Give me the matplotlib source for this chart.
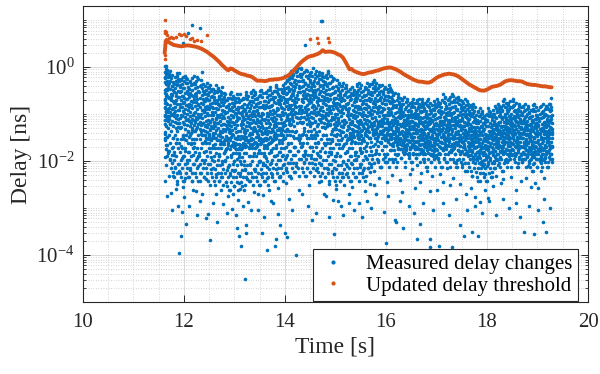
import numpy as np
import matplotlib
matplotlib.use('Agg')
import matplotlib.pyplot as plt
from matplotlib.ticker import LogLocator, FixedLocator, MultipleLocator, NullFormatter, FixedFormatter
from matplotlib.lines import Line2D

# ---------------- data (time in s, delay as log10 of ns) ----------------
meas_t = [
    11.62, 11.64, 11.63, 11.66, 11.62, 11.65, 11.63, 11.67, 11.64, 11.62, 11.68, 11.65,
    11.63, 11.62, 11.65, 11.64, 11.66, 11.63, 11.69, 11.62, 11.67, 11.64, 11.66, 11.68,
    11.74, 11.71, 11.78, 11.73, 11.76, 11.72, 11.79, 11.75, 11.77, 11.70, 11.73, 11.78,
    11.87, 11.83, 11.80, 11.86, 11.89, 11.82, 11.85, 11.88, 11.81, 11.84, 11.87, 11.86,
    11.92, 11.98, 11.95, 11.90, 11.94, 11.99, 11.91, 11.97, 11.93, 11.96, 11.99, 11.94,
    12.09, 12.04, 12.06, 12.01, 12.07, 12.00, 12.03, 12.05, 12.08, 12.02, 12.06, 12.01,
    12.15, 12.11, 12.18, 12.13, 12.10, 12.16, 12.12, 12.19, 12.14, 12.17, 12.11, 12.16,
    12.23, 12.27, 12.20, 12.25, 12.29, 12.22, 12.26, 12.21, 12.28, 12.24, 12.27, 12.22,
    12.36, 12.32, 12.38, 12.30, 12.34, 12.39, 12.31, 12.37, 12.33, 12.35, 12.38, 12.32,
    12.42, 12.47, 12.44, 12.41, 12.49, 12.45, 12.40, 12.48, 12.43, 12.46, 12.41, 12.47,
    12.55, 12.51, 12.58, 12.53, 12.50, 12.57, 12.52, 12.59, 12.54, 12.56, 12.51, 12.58,
    12.63, 12.68, 12.61, 12.66, 12.64, 12.60, 12.69, 12.62, 12.67, 12.65, 12.63, 12.68,
    12.74, 12.71, 12.77, 12.70, 12.79, 12.73, 12.76, 12.72, 12.78, 12.75, 12.70, 12.77,
    12.82, 12.86, 12.80, 12.88, 12.84, 12.81, 12.87, 12.83, 12.89, 12.85, 12.82, 12.87,
    12.95, 12.91, 12.98, 12.93, 12.90, 12.96, 12.92, 12.99, 12.94, 12.97, 12.91, 12.96,
    13.07, 13.02, 13.05, 13.00, 13.08, 13.04, 13.01, 13.09, 13.03, 13.06, 13.02, 13.08,
    13.13, 13.17, 13.10, 13.15, 13.19, 13.12, 13.16, 13.11, 13.18, 13.14, 13.17, 13.12,
    13.24, 13.21, 13.27, 13.20, 13.26, 13.22, 13.29, 13.23, 13.25, 13.28, 13.21, 13.27,
    13.38, 13.33, 13.30, 13.36, 13.31, 13.39, 13.34, 13.37, 13.32, 13.35, 13.30, 13.38,
    13.42, 13.46, 13.40, 13.48, 13.44, 13.41, 13.47, 13.43, 13.49, 13.45, 13.42, 13.47,
    13.55, 13.51, 13.58, 13.53, 13.50, 13.56, 13.52, 13.59, 13.54, 13.57, 13.51, 13.56,
    13.63, 13.68, 13.61, 13.66, 13.64, 13.60, 13.69, 13.62, 13.67, 13.65, 13.61, 13.68,
    13.74, 13.71, 13.77, 13.70, 13.79, 13.73, 13.76, 13.72, 13.78, 13.75, 13.70, 13.77,
    13.82, 13.86, 13.80, 13.88, 13.84, 13.81, 13.87, 13.83, 13.89, 13.85, 13.82, 13.87,
    13.95, 13.91, 13.98, 13.93, 13.90, 13.96, 13.92, 13.99, 13.94, 13.97, 13.91, 13.96,
    14.04, 14.08, 14.01, 14.06, 14.09, 14.02, 14.05, 14.00, 14.07, 14.03, 14.08, 14.02,
    14.13, 14.17, 14.10, 14.15, 14.19, 14.12, 14.16, 14.11, 14.18, 14.14, 14.17, 14.12,
    14.24, 14.21, 14.27, 14.20, 14.26, 14.22, 14.29, 14.23, 14.25, 14.28, 14.21, 14.27,
    14.36, 14.32, 14.38, 14.30, 14.34, 14.39, 14.31, 14.37, 14.33, 14.35, 14.38, 14.32,
    14.42, 14.47, 14.44, 14.41, 14.49, 14.45, 14.40, 14.48, 14.43, 14.46, 14.41, 14.47,
    14.55, 14.51, 14.58, 14.53, 14.50, 14.57, 14.52, 14.59, 14.54, 14.56, 14.51, 14.58,
    14.63, 14.68, 14.61, 14.66, 14.64, 14.60, 14.69, 14.62, 14.67, 14.65, 14.61, 14.68,
    14.74, 14.71, 14.77, 14.70, 14.79, 14.73, 14.76, 14.72, 14.78, 14.75, 14.70, 14.77,
    14.82, 14.86, 14.80, 14.88, 14.84, 14.81, 14.87, 14.83, 14.89, 14.85, 14.82, 14.87,
    14.95, 14.91, 14.98, 14.93, 14.90, 14.96, 14.92, 14.99, 14.94, 14.97, 14.91, 14.96,
    15.04, 15.08, 15.01, 15.06, 15.09, 15.02, 15.05, 15.00, 15.07, 15.03, 15.08, 15.02,
    15.13, 15.17, 15.10, 15.15, 15.19, 15.12, 15.16, 15.11, 15.18, 15.14, 15.17, 15.12,
    15.24, 15.21, 15.27, 15.20, 15.26, 15.22, 15.29, 15.23, 15.25, 15.28, 15.21, 15.27,
    15.36, 15.32, 15.38, 15.30, 15.34, 15.39, 15.31, 15.37, 15.33, 15.35, 15.38, 15.32,
    15.42, 15.47, 15.44, 15.41, 15.49, 15.45, 15.40, 15.48, 15.43, 15.46, 15.41, 15.47,
    15.55, 15.51, 15.58, 15.53, 15.50, 15.57, 15.52, 15.59, 15.54, 15.56, 15.51, 15.58,
    15.63, 15.68, 15.61, 15.66, 15.64, 15.60, 15.69, 15.62, 15.67, 15.65, 15.61, 15.68,
    15.74, 15.71, 15.77, 15.70, 15.79, 15.73, 15.76, 15.72, 15.78, 15.75, 15.70, 15.77,
    15.82, 15.86, 15.80, 15.88, 15.84, 15.81, 15.87, 15.83, 15.89, 15.85, 15.82, 15.87,
    15.95, 15.91, 15.98, 15.93, 15.90, 15.96, 15.92, 15.99, 15.94, 15.97, 15.91, 15.96,
    16.04, 16.08, 16.01, 16.06, 16.09, 16.02, 16.05, 16.00, 16.07, 16.03, 16.08, 16.02,
    16.13, 16.17, 16.10, 16.15, 16.19, 16.12, 16.16, 16.11, 16.18, 16.14, 16.17, 16.12,
    16.24, 16.21, 16.27, 16.20, 16.26, 16.22, 16.29, 16.23, 16.25, 16.28, 16.21, 16.27,
    16.36, 16.32, 16.38, 16.30, 16.34, 16.39, 16.31, 16.37, 16.33, 16.35, 16.38, 16.32,
    16.42, 16.47, 16.44, 16.41, 16.49, 16.45, 16.40, 16.48, 16.43, 16.46, 16.41, 16.47,
    16.55, 16.51, 16.58, 16.53, 16.50, 16.57, 16.52, 16.59, 16.54, 16.56, 16.51, 16.58,
    16.63, 16.68, 16.61, 16.66, 16.64, 16.60, 16.69, 16.62, 16.67, 16.65, 16.61, 16.68,
    16.74, 16.71, 16.77, 16.70, 16.79, 16.73, 16.76, 16.72, 16.78, 16.75, 16.70, 16.77,
    16.82, 16.86, 16.80, 16.88, 16.84, 16.81, 16.87, 16.83, 16.89, 16.85, 16.82, 16.87,
    16.95, 16.91, 16.98, 16.93, 16.90, 16.96, 16.92, 16.99, 16.94, 16.97, 16.91, 16.96,
    17.04, 17.08, 17.01, 17.06, 17.09, 17.02, 17.05, 17.00, 17.07, 17.03, 17.08, 17.02,
    17.13, 17.17, 17.10, 17.15, 17.19, 17.12, 17.16, 17.11, 17.18, 17.14, 17.17, 17.12,
    17.24, 17.21, 17.27, 17.20, 17.26, 17.22, 17.29, 17.23, 17.25, 17.28, 17.21, 17.27,
    17.36, 17.32, 17.38, 17.30, 17.34, 17.39, 17.31, 17.37, 17.33, 17.35, 17.38, 17.32,
    17.42, 17.47, 17.44, 17.41, 17.49, 17.45, 17.40, 17.48, 17.43, 17.46, 17.41, 17.47,
    17.55, 17.51, 17.58, 17.53, 17.50, 17.57, 17.52, 17.59, 17.54, 17.56, 17.51, 17.58,
    17.63, 17.68, 17.61, 17.66, 17.64, 17.60, 17.69, 17.62, 17.67, 17.65, 17.61, 17.68,
    17.74, 17.71, 17.77, 17.70, 17.79, 17.73, 17.76, 17.72, 17.78, 17.75, 17.70, 17.77,
    17.82, 17.86, 17.80, 17.88, 17.84, 17.81, 17.87, 17.83, 17.89, 17.85, 17.82, 17.87,
    17.95, 17.91, 17.98, 17.93, 17.90, 17.96, 17.92, 17.99, 17.94, 17.97, 17.91, 17.96,
    18.04, 18.08, 18.01, 18.06, 18.09, 18.02, 18.05, 18.00, 18.07, 18.03, 18.08, 18.02,
    18.13, 18.17, 18.10, 18.15, 18.19, 18.12, 18.16, 18.11, 18.18, 18.14, 18.17, 18.12,
    18.24, 18.21, 18.27, 18.20, 18.26, 18.22, 18.29, 18.23, 18.25, 18.28, 18.21, 18.27,
    18.36, 18.32, 18.38, 18.30, 18.34, 18.39, 18.31, 18.37, 18.33, 18.35, 18.38, 18.32,
    18.42, 18.47, 18.44, 18.41, 18.49, 18.45, 18.40, 18.48, 18.43, 18.46, 18.41, 18.47,
    18.55, 18.51, 18.58, 18.53, 18.50, 18.57, 18.52, 18.59, 18.54, 18.56, 18.51, 18.58,
    18.63, 18.68, 18.61, 18.66, 18.64, 18.60, 18.69, 18.62, 18.67, 18.65, 18.61, 18.68,
    18.74, 18.71, 18.77, 18.70, 18.79, 18.73, 18.76, 18.72, 18.78, 18.75, 18.70, 18.77,
    18.82, 18.86, 18.80, 18.88, 18.84, 18.81, 18.87, 18.83, 18.89, 18.85, 18.82, 18.87,
    18.95, 18.91, 18.98, 18.93, 18.90, 18.96, 18.92, 18.99, 18.94, 18.97, 18.91, 18.96,
    19.04, 19.08, 19.01, 19.06, 19.09, 19.02, 19.05, 19.00, 19.07, 19.03, 19.08, 19.02,
    19.13, 19.17, 19.10, 19.15, 19.19, 19.12, 19.16, 19.11, 19.18, 19.14, 19.17, 19.12,
    19.24, 19.21, 19.27, 19.20, 19.26, 19.22, 19.28, 19.23, 19.25, 19.28, 19.21, 19.27,
]
meas_log = [
    -0.31, 0.03, -0.87, -0.12, -1.42, -0.58, -0.21, -1.07, -1.66, -0.69, -0.44, -1.25,
    -0.49, -1.13, -0.05, -0.77, -1.90, -1.51, -0.96, -2.42, -0.33, -2.08, -0.62, -1.79,
    -0.63, -0.14, -1.52, -1.98, -0.41, -1.21, -0.88, -2.67, -1.73, -1.04, -0.29, -2.31,
    -1.36, -0.72, -1.88, -0.19, -1.11, -2.13, -0.55, -2.95, -0.97, -1.62, -0.36, -2.48,
    -0.84, -1.47, -0.27, -2.21, -1.69, -0.61, -1.18, -3.09, -0.43, -1.93, -2.55, -3.60,
    -0.92, -1.56, -0.33, -1.21, -2.04, -0.66, -1.79, -0.24, -1.38, -2.36, -0.81, -2.77,
    -1.64, -0.47, -1.02, -2.19, -0.78, -1.33, -0.30, -1.87, -0.59, -2.42, -1.49, -1.12,
    -0.36, -1.28, -1.71, -0.62, -2.11, -0.95, -0.21, -1.53, -0.79, -2.63, -1.94, -1.17,
    -0.11, -1.06, -0.51, -1.82, -1.37, -0.73, -2.26, -1.19, -0.38, -1.61, -0.92, -2.84,
    -1.24, -0.42, -1.78, -0.86, -1.43, -0.58, -2.05, -1.01, -2.38, -0.69, -1.57, -3.12,
    -0.47, -1.32, -0.98, -2.17, -0.71, -1.66, -1.14, -0.56, -1.91, -0.84, -2.52, -1.46,
    -1.09, -0.44, -1.73, -0.89, -2.28, -1.26, -0.63, -1.52, -1.97, -0.76, -2.71, -1.18,
    -0.52, -1.41, -0.94, -1.86, -1.22, -2.33, -0.68, -1.63, -1.04, -2.07, -0.81, -2.91,
    -0.98, -1.55, -0.64, -2.12, -1.31, -1.79, -0.83, -2.44, -1.16, -0.71, -1.98, -2.74,
    -1.43, -0.58, -1.07, -1.88, -1.24, -0.77, -2.29, -1.61, -0.92, -2.06, -1.35, -3.02,
    -0.66, -1.52, -1.13, -2.21, -0.89, -1.74, -1.29, -2.47, -0.99, -1.95, -0.73, -2.83,
    -1.21, -0.68, -1.86, -1.02, -1.47, -2.31, -0.85, -1.66, -1.13, -2.06, -0.94, -2.59,
    -0.59, -1.38, -1.08, -1.83, -0.81, -2.18, -1.55, -0.97, -2.39, -1.26, -1.71, -2.88,
    -1.17, -0.54, -1.64, -0.93, -2.06, -1.31, -0.72, -1.89, -1.42, -2.34, -1.03, -2.65,
    -0.83, -1.49, -0.58, -1.77, -1.12, -2.22, -0.98, -1.36, -2.01, -0.69, -1.61, -3.04,
    -1.26, -0.62, -1.83, -1.05, -0.51, -1.57, -2.27, -0.88, -1.41, -2.05, -1.14, -2.72,
    -0.54, -1.18, -1.69, -0.86, -2.13, -1.37, -0.71, -1.93, -1.05, -2.36, -1.52, -2.61,
    -1.11, -0.49, -1.56, -0.82, -1.28, -2.04, -0.63, -1.76, -0.97, -2.28, -1.39, -2.90,
    -0.42, -1.02, -1.48, -0.74, -1.87, -1.21, -0.57, -2.16, -1.33, -0.91, -1.66, -2.58,
    -1.32, -0.68, -0.44, -1.73, -1.05, -2.09, -0.86, -1.51, -1.19, -0.55, -2.31, -1.88,
    -0.27, -1.14, -0.71, -1.63, -0.48, -1.91, -1.02, -1.36, -0.19, -2.18, -0.87, -2.47,
    -0.62, -0.14, -1.24, -0.91, -1.71, -0.37, -1.47, -2.05, -0.78, -1.08, -0.52, -2.36,
    -0.08, -0.97, -0.45, -1.38, -1.79, -0.66, -1.16, -2.11, -0.29, -1.56, -0.83, -2.62,
    -0.51, -0.05, -1.29, -0.88, -1.67, -0.34, -1.06, -2.02, -0.72, -1.43, -1.89, -0.21,
    -0.93, -0.18, -1.52, -0.59, -1.21, -0.39, -1.84, -0.76, -2.14, -1.09, -0.07, -2.51,
    -0.33, -1.18, -0.64, -1.71, -0.12, -0.97, -1.45, -2.07, -0.48, -0.81, -1.94, -1.31,
    -0.74, -0.26, -1.38, -0.95, -1.83, -0.49, -1.12, -2.18, -0.11, -1.59, -0.63, -2.44,
    -0.19, -0.86, -1.27, -0.54, -1.66, -1.03, -0.38, -2.09, -0.71, -1.44, -1.91, -2.71,
    -0.58, -0.13, -1.06, -0.82, -1.53, -0.36, -1.81, -1.21, -0.69, -2.17, -0.97, -2.49,
    -0.24, -1.13, -0.66, -1.58, -0.91, -0.43, -1.86, -1.27, -2.22, -0.77, -1.42, -2.82,
    -0.88, -0.34, -1.47, -1.12, -0.61, -1.89, -0.49, -1.31, -2.26, -0.79, -1.64, -2.60,
    -0.41, -1.21, -0.83, -1.68, -0.57, -1.38, -2.03, -0.96, -1.12, -2.34, -0.71, -2.95,
    -1.05, -0.44, -1.52, -0.78, -1.29, -2.11, -0.62, -1.78, -0.91, -1.41, -2.28, -2.70,
    -0.49, -1.17, -0.86, -1.61, -1.33, -0.68, -2.04, -1.01, -1.49, -0.57, -1.87, -2.56,
    -0.37, -0.98, -1.41, -0.64, -1.76, -1.16, -0.82, -2.13, -0.52, -1.29, -1.95, -2.90,
    -0.73, -1.36, -0.42, -1.04, -1.82, -0.59, -1.21, -0.88, -2.19, -1.57, -0.99, -2.64,
    -1.13, -0.36, -0.79, -1.52, -0.55, -1.94, -1.02, -1.31, -0.67, -2.15, -1.68, -2.48,
    -0.32, -0.91, -1.24, -0.57, -1.64, -1.08, -0.73, -1.87, -0.46, -1.39, -2.06, -2.50,
    -0.96, -0.38, -1.41, -0.71, -1.17, -1.83, -0.54, -1.29, -0.86, -1.98, -1.57, -2.37,
    -0.58, -1.23, -0.42, -0.94, -1.61, -1.08, -0.76, -1.91, -1.36, -0.67, -2.12, -1.51,
    -1.02, -0.45, -1.44, -0.73, -1.19, -1.86, -0.61, -1.31, -0.89, -2.02, -1.63, -2.44,
    -0.54, -1.09, -1.47, -0.81, -1.28, -0.67, -1.77, -0.96, -1.58, -1.19, -1.96, -2.30,
    -0.63, -1.21, -0.92, -1.52, -0.78, -1.34, -1.06, -1.74, -1.43, -0.84, -1.88, -2.41,
    -1.12, -0.68, -1.39, -0.93, -1.61, -1.24, -0.79, -1.83, -1.04, -1.47, -2.12, -2.66,
    -0.73, -1.31, -1.02, -1.56, -0.86, -1.19, -1.73, -1.42, -0.94, -1.87, -1.11, -2.28,
    -1.26, -0.75, -0.97, -1.48, -1.14, -1.69, -0.82, -1.33, -1.86, -1.05, -2.17, -2.58,
    -0.88, -1.36, -0.71, -1.12, -1.58, -0.99, -1.81, -1.24, -1.45, -0.79, -2.09, -2.44,
    -1.17, -0.74, -1.51, -0.96, -1.29, -1.77, -0.87, -1.41, -1.06, -1.95, -2.26, -1.63,
    -0.72, -1.22, -1.46, -0.91, -1.69, -1.08, -1.34, -0.83, -1.88, -1.57, -2.21, -2.63,
    -1.03, -1.49, -0.78, -1.27, -1.66, -0.92, -1.14, -1.91, -1.38, -0.85, -2.32, -1.74,
    -0.74, -1.18, -1.43, -0.96, -1.72, -1.31, -0.83, -1.56, -1.07, -1.94, -2.28, -2.61,
    -1.21, -0.63, -0.94, -1.47, -1.11, -1.76, -0.77, -1.34, -1.02, -1.93, -1.58, -2.45,
    -0.68, -1.28, -1.03, -1.55, -0.87, -1.19, -1.81, -1.42, -0.96, -1.67, -2.15, -2.52,
    -1.09, -0.62, -1.38, -0.86, -1.61, -1.21, -0.97, -1.86, -1.48, -0.74, -2.04, -2.36,
    -0.69, -1.14, -1.52, -0.92, -1.33, -1.78, -1.06, -0.81, -1.63, -1.24, -1.97, -2.48,
    -1.26, -0.73, -0.99, -1.57, -1.13, -1.84, -0.88, -1.39, -1.71, -1.04, -2.06, -2.70,
    -0.78, -1.32, -1.09, -1.61, -0.93, -1.44, -1.87, -1.18, -1.03, -1.73, -2.22, -2.57,
    -1.14, -0.83, -1.46, -1.27, -1.71, -0.98, -1.58, -2.02, -1.36, -1.07, -2.31, -2.76,
    -0.93, -1.41, -1.17, -1.68, -1.29, -1.92, -1.04, -1.53, -2.14, -1.78, -2.42, -2.88,
    -1.22, -0.97, -1.58, -1.36, -1.83, -1.11, -2.06, -1.47, -1.71, -2.27, -1.28, -2.62,
    -0.94, -1.37, -1.13, -1.62, -1.24, -1.89, -1.48, -2.11, -1.03, -1.74, -2.33, -2.79,
    -1.18, -0.88, -1.43, -1.06, -1.69, -1.31, -1.92, -0.99, -1.55, -2.14, -1.26, -2.53,
    -0.82, -1.24, -1.07, -1.51, -0.96, -1.37, -1.76, -1.16, -1.93, -1.44, -2.08, -2.46,
    -1.04, -0.73, -1.32, -0.91, -1.58, -1.19, -1.82, -0.84, -1.41, -1.97, -1.12, -2.39,
    -0.77, -1.16, -1.38, -0.94, -1.62, -1.07, -1.27, -1.84, -1.49, -0.86, -1.98, -2.33,
    -1.12, -0.72, -0.95, -1.43, -1.26, -1.71, -0.83, -1.54, -1.04, -1.89, -1.35, -2.61,
    -0.83, -1.27, -1.06, -1.48, -0.94, -1.66, -1.18, -1.39, -1.87, -1.01, -2.04, -2.42,
    -1.19, -0.82, -1.44, -0.98, -1.31, -1.62, -1.07, -1.83, -1.53, -0.91, -1.96, -2.36,
    -0.87, -1.33, -1.14, -1.57, -0.98, -1.76, -1.22, -1.45, -1.92, -1.06, -2.11, -2.55,
    -1.24, -0.81, -1.02, -1.49, -1.13, -1.68, -0.93, -1.36, -1.84, -1.11, -2.07, -2.47,
    -0.86, -1.29, -1.08, -1.53, -0.97, -1.41, -1.74, -1.19, -1.92, -1.63, -2.13, -2.58,
    -1.16, -0.82, -1.37, -0.99, -1.58, -1.24, -1.79, -1.07, -1.46, -1.94, -0.88, -2.36,
    -0.79, -1.21, -1.04, -1.47, -0.91, -1.33, -1.68, -1.12, -1.86, -1.39, -2.02, -0.65,
]

# densest part of the measured cloud (upper body of the band), 24 samples per 0.1 s
core_t = [
    11.63, 11.67, 11.62, 11.65, 11.69, 11.62, 11.66, 11.64, 11.68, 11.64, 11.67, 11.63, 11.65, 11.69, 11.63, 11.62, 11.66, 11.62, 11.68, 11.64, 11.63, 11.67, 11.63, 11.69,
    11.73, 11.77, 11.71, 11.75, 11.79, 11.70, 11.76, 11.72, 11.78, 11.74, 11.77, 11.71, 11.75, 11.79, 11.73, 11.70, 11.76, 11.72, 11.78, 11.74, 11.71, 11.77, 11.73, 11.79,
    11.86, 11.82, 11.89, 11.84, 11.80, 11.87, 11.83, 11.88, 11.81, 11.85, 11.89, 11.84, 11.80, 11.86, 11.82, 11.88, 11.83, 11.87, 11.81, 11.85, 11.82, 11.86, 11.89, 11.84,
    11.91, 11.98, 11.94, 11.90, 11.96, 11.93, 11.99, 11.95, 11.92, 11.97, 11.90, 11.95, 11.98, 11.93, 11.96, 11.91, 11.99, 11.94, 11.97, 11.92, 11.98, 11.90, 11.95, 11.93,
    12.03, 12.07, 12.01, 12.05, 12.09, 12.00, 12.06, 12.02, 12.08, 12.04, 12.07, 12.01, 12.05, 12.09, 12.03, 12.00, 12.06, 12.02, 12.08, 12.04, 12.01, 12.07, 12.03, 12.09,
    12.16, 12.12, 12.19, 12.14, 12.10, 12.17, 12.13, 12.18, 12.11, 12.15, 12.19, 12.14, 12.10, 12.16, 12.12, 12.18, 12.13, 12.17, 12.11, 12.15, 12.12, 12.16, 12.19, 12.14,
    12.21, 12.28, 12.24, 12.20, 12.26, 12.23, 12.29, 12.25, 12.22, 12.27, 12.20, 12.25, 12.28, 12.23, 12.26, 12.21, 12.29, 12.24, 12.27, 12.22, 12.28, 12.20, 12.25, 12.23,
    12.33, 12.37, 12.31, 12.35, 12.39, 12.30, 12.36, 12.32, 12.38, 12.34, 12.37, 12.31, 12.35, 12.39, 12.33, 12.30, 12.36, 12.32, 12.38, 12.34, 12.31, 12.37, 12.33, 12.39,
    12.46, 12.42, 12.49, 12.44, 12.40, 12.47, 12.43, 12.48, 12.41, 12.45, 12.49, 12.44, 12.40, 12.46, 12.42, 12.48, 12.43, 12.47, 12.41, 12.45, 12.42, 12.46, 12.49, 12.44,
    12.51, 12.58, 12.54, 12.50, 12.56, 12.53, 12.59, 12.55, 12.52, 12.57, 12.50, 12.55, 12.58, 12.53, 12.56, 12.51, 12.59, 12.54, 12.57, 12.52, 12.58, 12.50, 12.55, 12.53,
    12.63, 12.67, 12.61, 12.65, 12.69, 12.60, 12.66, 12.62, 12.68, 12.64, 12.67, 12.61, 12.65, 12.69, 12.63, 12.60, 12.66, 12.62, 12.68, 12.64, 12.61, 12.67, 12.63, 12.69,
    12.76, 12.72, 12.79, 12.74, 12.70, 12.77, 12.73, 12.78, 12.71, 12.75, 12.79, 12.74, 12.70, 12.76, 12.72, 12.78, 12.73, 12.77, 12.71, 12.75, 12.72, 12.76, 12.79, 12.74,
    12.81, 12.88, 12.84, 12.80, 12.86, 12.83, 12.89, 12.85, 12.82, 12.87, 12.80, 12.85, 12.88, 12.83, 12.86, 12.81, 12.89, 12.84, 12.87, 12.82, 12.88, 12.80, 12.85, 12.83,
    12.93, 12.97, 12.91, 12.95, 12.99, 12.90, 12.96, 12.92, 12.98, 12.94, 12.97, 12.91, 12.95, 12.99, 12.93, 12.90, 12.96, 12.92, 12.98, 12.94, 12.91, 12.97, 12.93, 12.99,
    13.06, 13.02, 13.09, 13.04, 13.00, 13.07, 13.03, 13.08, 13.01, 13.05, 13.09, 13.04, 13.00, 13.06, 13.02, 13.08, 13.03, 13.07, 13.01, 13.05, 13.02, 13.06, 13.09, 13.04,
    13.11, 13.18, 13.14, 13.10, 13.16, 13.13, 13.19, 13.15, 13.12, 13.17, 13.10, 13.15, 13.18, 13.13, 13.16, 13.11, 13.19, 13.14, 13.17, 13.12, 13.18, 13.10, 13.15, 13.13,
    13.23, 13.27, 13.21, 13.25, 13.29, 13.20, 13.26, 13.22, 13.28, 13.24, 13.27, 13.21, 13.25, 13.29, 13.23, 13.20, 13.26, 13.22, 13.28, 13.24, 13.21, 13.27, 13.23, 13.29,
    13.36, 13.32, 13.39, 13.34, 13.30, 13.37, 13.33, 13.38, 13.31, 13.35, 13.39, 13.34, 13.30, 13.36, 13.32, 13.38, 13.33, 13.37, 13.31, 13.35, 13.32, 13.36, 13.39, 13.34,
    13.41, 13.48, 13.44, 13.40, 13.46, 13.43, 13.49, 13.45, 13.42, 13.47, 13.40, 13.45, 13.48, 13.43, 13.46, 13.41, 13.49, 13.44, 13.47, 13.42, 13.48, 13.40, 13.45, 13.43,
    13.53, 13.57, 13.51, 13.55, 13.59, 13.50, 13.56, 13.52, 13.58, 13.54, 13.57, 13.51, 13.55, 13.59, 13.53, 13.50, 13.56, 13.52, 13.58, 13.54, 13.51, 13.57, 13.53, 13.59,
    13.66, 13.62, 13.69, 13.64, 13.60, 13.67, 13.63, 13.68, 13.61, 13.65, 13.69, 13.64, 13.60, 13.66, 13.62, 13.68, 13.63, 13.67, 13.61, 13.65, 13.62, 13.66, 13.69, 13.64,
    13.71, 13.78, 13.74, 13.70, 13.76, 13.73, 13.79, 13.75, 13.72, 13.77, 13.70, 13.75, 13.78, 13.73, 13.76, 13.71, 13.79, 13.74, 13.77, 13.72, 13.78, 13.70, 13.75, 13.73,
    13.83, 13.87, 13.81, 13.85, 13.89, 13.80, 13.86, 13.82, 13.88, 13.84, 13.87, 13.81, 13.85, 13.89, 13.83, 13.80, 13.86, 13.82, 13.88, 13.84, 13.81, 13.87, 13.83, 13.89,
    13.96, 13.92, 13.99, 13.94, 13.90, 13.97, 13.93, 13.98, 13.91, 13.95, 13.99, 13.94, 13.90, 13.96, 13.92, 13.98, 13.93, 13.97, 13.91, 13.95, 13.92, 13.96, 13.99, 13.94,
    14.01, 14.08, 14.04, 14.00, 14.06, 14.03, 14.09, 14.05, 14.02, 14.07, 14.00, 14.05, 14.08, 14.03, 14.06, 14.01, 14.09, 14.04, 14.07, 14.02, 14.08, 14.00, 14.05, 14.03,
    14.13, 14.17, 14.11, 14.15, 14.19, 14.10, 14.16, 14.12, 14.18, 14.14, 14.17, 14.11, 14.15, 14.19, 14.13, 14.10, 14.16, 14.12, 14.18, 14.14, 14.11, 14.17, 14.13, 14.19,
    14.26, 14.22, 14.29, 14.24, 14.20, 14.27, 14.23, 14.28, 14.21, 14.25, 14.29, 14.24, 14.20, 14.26, 14.22, 14.28, 14.23, 14.27, 14.21, 14.25, 14.22, 14.26, 14.29, 14.24,
    14.31, 14.38, 14.34, 14.30, 14.36, 14.33, 14.39, 14.35, 14.32, 14.37, 14.30, 14.35, 14.38, 14.33, 14.36, 14.31, 14.39, 14.34, 14.37, 14.32, 14.38, 14.30, 14.35, 14.33,
    14.43, 14.47, 14.41, 14.45, 14.49, 14.40, 14.46, 14.42, 14.48, 14.44, 14.47, 14.41, 14.45, 14.49, 14.43, 14.40, 14.46, 14.42, 14.48, 14.44, 14.41, 14.47, 14.43, 14.49,
    14.56, 14.52, 14.59, 14.54, 14.50, 14.57, 14.53, 14.58, 14.51, 14.55, 14.59, 14.54, 14.50, 14.56, 14.52, 14.58, 14.53, 14.57, 14.51, 14.55, 14.52, 14.56, 14.59, 14.54,
    14.61, 14.68, 14.64, 14.60, 14.66, 14.63, 14.69, 14.65, 14.62, 14.67, 14.60, 14.65, 14.68, 14.63, 14.66, 14.61, 14.69, 14.64, 14.67, 14.62, 14.68, 14.60, 14.65, 14.63,
    14.73, 14.77, 14.71, 14.75, 14.79, 14.70, 14.76, 14.72, 14.78, 14.74, 14.77, 14.71, 14.75, 14.79, 14.73, 14.70, 14.76, 14.72, 14.78, 14.74, 14.71, 14.77, 14.73, 14.79,
    14.86, 14.82, 14.89, 14.84, 14.80, 14.87, 14.83, 14.88, 14.81, 14.85, 14.89, 14.84, 14.80, 14.86, 14.82, 14.88, 14.83, 14.87, 14.81, 14.85, 14.82, 14.86, 14.89, 14.84,
    14.91, 14.98, 14.94, 14.90, 14.96, 14.93, 14.99, 14.95, 14.92, 14.97, 14.90, 14.95, 14.98, 14.93, 14.96, 14.91, 14.99, 14.94, 14.97, 14.92, 14.98, 14.90, 14.95, 14.93,
    15.03, 15.07, 15.01, 15.05, 15.09, 15.00, 15.06, 15.02, 15.08, 15.04, 15.07, 15.01, 15.05, 15.09, 15.03, 15.00, 15.06, 15.02, 15.08, 15.04, 15.01, 15.07, 15.03, 15.09,
    15.16, 15.12, 15.19, 15.14, 15.10, 15.17, 15.13, 15.18, 15.11, 15.15, 15.19, 15.14, 15.10, 15.16, 15.12, 15.18, 15.13, 15.17, 15.11, 15.15, 15.12, 15.16, 15.19, 15.14,
    15.21, 15.28, 15.24, 15.20, 15.26, 15.23, 15.29, 15.25, 15.22, 15.27, 15.20, 15.25, 15.28, 15.23, 15.26, 15.21, 15.29, 15.24, 15.27, 15.22, 15.28, 15.20, 15.25, 15.23,
    15.33, 15.37, 15.31, 15.35, 15.39, 15.30, 15.36, 15.32, 15.38, 15.34, 15.37, 15.31, 15.35, 15.39, 15.33, 15.30, 15.36, 15.32, 15.38, 15.34, 15.31, 15.37, 15.33, 15.39,
    15.46, 15.42, 15.49, 15.44, 15.40, 15.47, 15.43, 15.48, 15.41, 15.45, 15.49, 15.44, 15.40, 15.46, 15.42, 15.48, 15.43, 15.47, 15.41, 15.45, 15.42, 15.46, 15.49, 15.44,
    15.51, 15.58, 15.54, 15.50, 15.56, 15.53, 15.59, 15.55, 15.52, 15.57, 15.50, 15.55, 15.58, 15.53, 15.56, 15.51, 15.59, 15.54, 15.57, 15.52, 15.58, 15.50, 15.55, 15.53,
    15.63, 15.67, 15.61, 15.65, 15.69, 15.60, 15.66, 15.62, 15.68, 15.64, 15.67, 15.61, 15.65, 15.69, 15.63, 15.60, 15.66, 15.62, 15.68, 15.64, 15.61, 15.67, 15.63, 15.69,
    15.76, 15.72, 15.79, 15.74, 15.70, 15.77, 15.73, 15.78, 15.71, 15.75, 15.79, 15.74, 15.70, 15.76, 15.72, 15.78, 15.73, 15.77, 15.71, 15.75, 15.72, 15.76, 15.79, 15.74,
    15.81, 15.88, 15.84, 15.80, 15.86, 15.83, 15.89, 15.85, 15.82, 15.87, 15.80, 15.85, 15.88, 15.83, 15.86, 15.81, 15.89, 15.84, 15.87, 15.82, 15.88, 15.80, 15.85, 15.83,
    15.93, 15.97, 15.91, 15.95, 15.99, 15.90, 15.96, 15.92, 15.98, 15.94, 15.97, 15.91, 15.95, 15.99, 15.93, 15.90, 15.96, 15.92, 15.98, 15.94, 15.91, 15.97, 15.93, 15.99,
    16.06, 16.02, 16.09, 16.04, 16.00, 16.07, 16.03, 16.08, 16.01, 16.05, 16.09, 16.04, 16.00, 16.06, 16.02, 16.08, 16.03, 16.07, 16.01, 16.05, 16.02, 16.06, 16.09, 16.04,
    16.11, 16.18, 16.14, 16.10, 16.16, 16.13, 16.19, 16.15, 16.12, 16.17, 16.10, 16.15, 16.18, 16.13, 16.16, 16.11, 16.19, 16.14, 16.17, 16.12, 16.18, 16.10, 16.15, 16.13,
    16.23, 16.27, 16.21, 16.25, 16.29, 16.20, 16.26, 16.22, 16.28, 16.24, 16.27, 16.21, 16.25, 16.29, 16.23, 16.20, 16.26, 16.22, 16.28, 16.24, 16.21, 16.27, 16.23, 16.29,
    16.36, 16.32, 16.39, 16.34, 16.30, 16.37, 16.33, 16.38, 16.31, 16.35, 16.39, 16.34, 16.30, 16.36, 16.32, 16.38, 16.33, 16.37, 16.31, 16.35, 16.32, 16.36, 16.39, 16.34,
    16.41, 16.48, 16.44, 16.40, 16.46, 16.43, 16.49, 16.45, 16.42, 16.47, 16.40, 16.45, 16.48, 16.43, 16.46, 16.41, 16.49, 16.44, 16.47, 16.42, 16.48, 16.40, 16.45, 16.43,
    16.53, 16.57, 16.51, 16.55, 16.59, 16.50, 16.56, 16.52, 16.58, 16.54, 16.57, 16.51, 16.55, 16.59, 16.53, 16.50, 16.56, 16.52, 16.58, 16.54, 16.51, 16.57, 16.53, 16.59,
    16.66, 16.62, 16.69, 16.64, 16.60, 16.67, 16.63, 16.68, 16.61, 16.65, 16.69, 16.64, 16.60, 16.66, 16.62, 16.68, 16.63, 16.67, 16.61, 16.65, 16.62, 16.66, 16.69, 16.64,
    16.71, 16.78, 16.74, 16.70, 16.76, 16.73, 16.79, 16.75, 16.72, 16.77, 16.70, 16.75, 16.78, 16.73, 16.76, 16.71, 16.79, 16.74, 16.77, 16.72, 16.78, 16.70, 16.75, 16.73,
    16.83, 16.87, 16.81, 16.85, 16.89, 16.80, 16.86, 16.82, 16.88, 16.84, 16.87, 16.81, 16.85, 16.89, 16.83, 16.80, 16.86, 16.82, 16.88, 16.84, 16.81, 16.87, 16.83, 16.89,
    16.96, 16.92, 16.99, 16.94, 16.90, 16.97, 16.93, 16.98, 16.91, 16.95, 16.99, 16.94, 16.90, 16.96, 16.92, 16.98, 16.93, 16.97, 16.91, 16.95, 16.92, 16.96, 16.99, 16.94,
    17.01, 17.08, 17.04, 17.00, 17.06, 17.03, 17.09, 17.05, 17.02, 17.07, 17.00, 17.05, 17.08, 17.03, 17.06, 17.01, 17.09, 17.04, 17.07, 17.02, 17.08, 17.00, 17.05, 17.03,
    17.13, 17.17, 17.11, 17.15, 17.19, 17.10, 17.16, 17.12, 17.18, 17.14, 17.17, 17.11, 17.15, 17.19, 17.13, 17.10, 17.16, 17.12, 17.18, 17.14, 17.11, 17.17, 17.13, 17.19,
    17.26, 17.22, 17.29, 17.24, 17.20, 17.27, 17.23, 17.28, 17.21, 17.25, 17.29, 17.24, 17.20, 17.26, 17.22, 17.28, 17.23, 17.27, 17.21, 17.25, 17.22, 17.26, 17.29, 17.24,
    17.31, 17.38, 17.34, 17.30, 17.36, 17.33, 17.39, 17.35, 17.32, 17.37, 17.30, 17.35, 17.38, 17.33, 17.36, 17.31, 17.39, 17.34, 17.37, 17.32, 17.38, 17.30, 17.35, 17.33,
    17.43, 17.47, 17.41, 17.45, 17.49, 17.40, 17.46, 17.42, 17.48, 17.44, 17.47, 17.41, 17.45, 17.49, 17.43, 17.40, 17.46, 17.42, 17.48, 17.44, 17.41, 17.47, 17.43, 17.49,
    17.56, 17.52, 17.59, 17.54, 17.50, 17.57, 17.53, 17.58, 17.51, 17.55, 17.59, 17.54, 17.50, 17.56, 17.52, 17.58, 17.53, 17.57, 17.51, 17.55, 17.52, 17.56, 17.59, 17.54,
    17.61, 17.68, 17.64, 17.60, 17.66, 17.63, 17.69, 17.65, 17.62, 17.67, 17.60, 17.65, 17.68, 17.63, 17.66, 17.61, 17.69, 17.64, 17.67, 17.62, 17.68, 17.60, 17.65, 17.63,
    17.73, 17.77, 17.71, 17.75, 17.79, 17.70, 17.76, 17.72, 17.78, 17.74, 17.77, 17.71, 17.75, 17.79, 17.73, 17.70, 17.76, 17.72, 17.78, 17.74, 17.71, 17.77, 17.73, 17.79,
    17.86, 17.82, 17.89, 17.84, 17.80, 17.87, 17.83, 17.88, 17.81, 17.85, 17.89, 17.84, 17.80, 17.86, 17.82, 17.88, 17.83, 17.87, 17.81, 17.85, 17.82, 17.86, 17.89, 17.84,
    17.91, 17.98, 17.94, 17.90, 17.96, 17.93, 17.99, 17.95, 17.92, 17.97, 17.90, 17.95, 17.98, 17.93, 17.96, 17.91, 17.99, 17.94, 17.97, 17.92, 17.98, 17.90, 17.95, 17.93,
    18.03, 18.07, 18.01, 18.05, 18.09, 18.00, 18.06, 18.02, 18.08, 18.04, 18.07, 18.01, 18.05, 18.09, 18.03, 18.00, 18.06, 18.02, 18.08, 18.04, 18.01, 18.07, 18.03, 18.09,
    18.16, 18.12, 18.19, 18.14, 18.10, 18.17, 18.13, 18.18, 18.11, 18.15, 18.19, 18.14, 18.10, 18.16, 18.12, 18.18, 18.13, 18.17, 18.11, 18.15, 18.12, 18.16, 18.19, 18.14,
    18.21, 18.28, 18.24, 18.20, 18.26, 18.23, 18.29, 18.25, 18.22, 18.27, 18.20, 18.25, 18.28, 18.23, 18.26, 18.21, 18.29, 18.24, 18.27, 18.22, 18.28, 18.20, 18.25, 18.23,
    18.33, 18.37, 18.31, 18.35, 18.39, 18.30, 18.36, 18.32, 18.38, 18.34, 18.37, 18.31, 18.35, 18.39, 18.33, 18.30, 18.36, 18.32, 18.38, 18.34, 18.31, 18.37, 18.33, 18.39,
    18.46, 18.42, 18.49, 18.44, 18.40, 18.47, 18.43, 18.48, 18.41, 18.45, 18.49, 18.44, 18.40, 18.46, 18.42, 18.48, 18.43, 18.47, 18.41, 18.45, 18.42, 18.46, 18.49, 18.44,
    18.51, 18.58, 18.54, 18.50, 18.56, 18.53, 18.59, 18.55, 18.52, 18.57, 18.50, 18.55, 18.58, 18.53, 18.56, 18.51, 18.59, 18.54, 18.57, 18.52, 18.58, 18.50, 18.55, 18.53,
    18.63, 18.67, 18.61, 18.65, 18.69, 18.60, 18.66, 18.62, 18.68, 18.64, 18.67, 18.61, 18.65, 18.69, 18.63, 18.60, 18.66, 18.62, 18.68, 18.64, 18.61, 18.67, 18.63, 18.69,
    18.76, 18.72, 18.79, 18.74, 18.70, 18.77, 18.73, 18.78, 18.71, 18.75, 18.79, 18.74, 18.70, 18.76, 18.72, 18.78, 18.73, 18.77, 18.71, 18.75, 18.72, 18.76, 18.79, 18.74,
    18.81, 18.88, 18.84, 18.80, 18.86, 18.83, 18.89, 18.85, 18.82, 18.87, 18.80, 18.85, 18.88, 18.83, 18.86, 18.81, 18.89, 18.84, 18.87, 18.82, 18.88, 18.80, 18.85, 18.83,
    18.93, 18.97, 18.91, 18.95, 18.99, 18.90, 18.96, 18.92, 18.98, 18.94, 18.97, 18.91, 18.95, 18.99, 18.93, 18.90, 18.96, 18.92, 18.98, 18.94, 18.91, 18.97, 18.93, 18.99,
    19.06, 19.02, 19.09, 19.04, 19.00, 19.07, 19.03, 19.08, 19.01, 19.05, 19.09, 19.04, 19.00, 19.06, 19.02, 19.08, 19.03, 19.07, 19.01, 19.05, 19.02, 19.06, 19.09, 19.04,
    19.11, 19.18, 19.14, 19.10, 19.16, 19.13, 19.19, 19.15, 19.12, 19.17, 19.10, 19.15, 19.18, 19.13, 19.16, 19.11, 19.19, 19.14, 19.17, 19.12, 19.18, 19.10, 19.15, 19.13,
    19.23, 19.27, 19.21, 19.25, 19.28, 19.20, 19.26, 19.22, 19.28, 19.24, 19.27, 19.21, 19.25, 19.28, 19.23, 19.20, 19.26, 19.22, 19.28, 19.24, 19.21, 19.27, 19.23, 19.28,
]
core_log = [
    0.02, -0.06, -0.10, -0.14, -0.22, -0.24, -0.30, -0.36, -0.38, -0.47, -0.49, -0.55, -0.61, -0.63, -0.70, -0.77, -0.79, -0.86, -0.90, -0.93, -1.01, -1.04, -1.12, -1.15,
    -0.08, -0.16, -0.20, -0.24, -0.32, -0.34, -0.40, -0.46, -0.48, -0.57, -0.59, -0.65, -0.71, -0.73, -0.80, -0.87, -0.89, -0.96, -1.00, -1.03, -1.11, -1.14, -1.22, -1.25,
    -0.13, -0.21, -0.25, -0.29, -0.37, -0.39, -0.45, -0.51, -0.53, -0.62, -0.64, -0.70, -0.76, -0.78, -0.85, -0.92, -0.94, -1.01, -1.05, -1.08, -1.16, -1.19, -1.27, -1.30,
    -0.13, -0.21, -0.25, -0.29, -0.37, -0.39, -0.45, -0.51, -0.53, -0.62, -0.64, -0.70, -0.76, -0.78, -0.85, -0.92, -0.94, -1.01, -1.05, -1.08, -1.16, -1.19, -1.27, -1.30,
    -0.18, -0.26, -0.30, -0.34, -0.42, -0.44, -0.50, -0.56, -0.58, -0.67, -0.69, -0.75, -0.81, -0.83, -0.90, -0.97, -0.99, -1.06, -1.10, -1.13, -1.21, -1.24, -1.32, -1.35,
    -0.23, -0.31, -0.35, -0.39, -0.47, -0.49, -0.55, -0.61, -0.63, -0.72, -0.74, -0.80, -0.86, -0.88, -0.95, -1.02, -1.04, -1.11, -1.15, -1.18, -1.26, -1.29, -1.37, -1.40,
    -0.18, -0.26, -0.30, -0.34, -0.42, -0.44, -0.50, -0.56, -0.58, -0.67, -0.69, -0.75, -0.81, -0.83, -0.90, -0.97, -0.99, -1.06, -1.10, -1.13, -1.21, -1.24, -1.32, -1.35,
    -0.28, -0.36, -0.40, -0.44, -0.52, -0.54, -0.60, -0.66, -0.68, -0.77, -0.79, -0.85, -0.91, -0.93, -1.00, -1.07, -1.09, -1.16, -1.20, -1.23, -1.31, -1.34, -1.42, -1.45,
    -0.33, -0.41, -0.45, -0.49, -0.57, -0.59, -0.65, -0.71, -0.73, -0.82, -0.84, -0.90, -0.96, -0.98, -1.05, -1.12, -1.14, -1.21, -1.25, -1.28, -1.36, -1.39, -1.47, -1.50,
    -0.38, -0.46, -0.50, -0.54, -0.62, -0.64, -0.70, -0.76, -0.78, -0.87, -0.89, -0.95, -1.01, -1.03, -1.10, -1.17, -1.19, -1.26, -1.30, -1.33, -1.41, -1.44, -1.52, -1.55,
    -0.38, -0.46, -0.50, -0.54, -0.62, -0.64, -0.70, -0.76, -0.78, -0.87, -0.89, -0.95, -1.01, -1.03, -1.10, -1.17, -1.19, -1.26, -1.30, -1.33, -1.41, -1.44, -1.52, -1.55,
    -0.43, -0.51, -0.55, -0.59, -0.67, -0.69, -0.75, -0.81, -0.83, -0.92, -0.94, -1.00, -1.06, -1.08, -1.15, -1.22, -1.24, -1.31, -1.35, -1.38, -1.46, -1.49, -1.57, -1.60,
    -0.58, -0.66, -0.70, -0.74, -0.82, -0.84, -0.90, -0.96, -0.98, -1.07, -1.09, -1.15, -1.21, -1.23, -1.30, -1.37, -1.39, -1.46, -1.50, -1.53, -1.61, -1.64, -1.72, -1.75,
    -0.53, -0.61, -0.65, -0.69, -0.77, -0.79, -0.85, -0.91, -0.93, -1.02, -1.04, -1.10, -1.16, -1.18, -1.25, -1.32, -1.34, -1.41, -1.45, -1.48, -1.56, -1.59, -1.67, -1.70,
    -0.58, -0.66, -0.70, -0.74, -0.82, -0.84, -0.90, -0.96, -0.98, -1.07, -1.09, -1.15, -1.21, -1.23, -1.30, -1.37, -1.39, -1.46, -1.50, -1.53, -1.61, -1.64, -1.72, -1.75,
    -0.58, -0.66, -0.70, -0.74, -0.82, -0.84, -0.90, -0.96, -0.98, -1.07, -1.09, -1.15, -1.21, -1.23, -1.30, -1.37, -1.39, -1.46, -1.50, -1.53, -1.61, -1.64, -1.72, -1.75,
    -0.53, -0.61, -0.65, -0.69, -0.77, -0.79, -0.85, -0.91, -0.93, -1.02, -1.04, -1.10, -1.16, -1.18, -1.25, -1.32, -1.34, -1.41, -1.45, -1.48, -1.56, -1.59, -1.67, -1.70,
    -0.48, -0.56, -0.60, -0.64, -0.72, -0.74, -0.80, -0.86, -0.88, -0.97, -0.99, -1.05, -1.11, -1.13, -1.20, -1.27, -1.29, -1.36, -1.40, -1.43, -1.51, -1.54, -1.62, -1.65,
    -0.53, -0.61, -0.65, -0.69, -0.77, -0.79, -0.85, -0.91, -0.93, -1.02, -1.04, -1.10, -1.16, -1.18, -1.25, -1.32, -1.34, -1.41, -1.45, -1.48, -1.56, -1.59, -1.67, -1.70,
    -0.48, -0.56, -0.60, -0.64, -0.72, -0.74, -0.80, -0.86, -0.88, -0.97, -0.99, -1.05, -1.11, -1.13, -1.20, -1.27, -1.29, -1.36, -1.40, -1.43, -1.51, -1.54, -1.62, -1.65,
    -0.48, -0.56, -0.60, -0.64, -0.72, -0.74, -0.80, -0.86, -0.88, -0.97, -0.99, -1.05, -1.11, -1.13, -1.20, -1.27, -1.29, -1.36, -1.40, -1.43, -1.51, -1.54, -1.62, -1.65,
    -0.43, -0.51, -0.55, -0.59, -0.67, -0.69, -0.75, -0.81, -0.83, -0.92, -0.94, -1.00, -1.06, -1.08, -1.15, -1.22, -1.24, -1.31, -1.35, -1.38, -1.46, -1.49, -1.57, -1.60,
    -0.38, -0.46, -0.50, -0.54, -0.62, -0.64, -0.70, -0.76, -0.78, -0.87, -0.89, -0.95, -1.01, -1.03, -1.10, -1.17, -1.19, -1.26, -1.30, -1.33, -1.41, -1.44, -1.52, -1.55,
    -0.38, -0.46, -0.50, -0.54, -0.62, -0.64, -0.70, -0.76, -0.78, -0.87, -0.89, -0.95, -1.01, -1.03, -1.10, -1.17, -1.19, -1.26, -1.30, -1.33, -1.41, -1.44, -1.52, -1.55,
    -0.18, -0.26, -0.30, -0.34, -0.42, -0.44, -0.50, -0.56, -0.58, -0.67, -0.69, -0.75, -0.81, -0.83, -0.90, -0.97, -0.99, -1.06, -1.10, -1.13, -1.21, -1.24, -1.32, -1.35,
    -0.08, -0.16, -0.20, -0.24, -0.32, -0.34, -0.40, -0.46, -0.48, -0.57, -0.59, -0.65, -0.71, -0.73, -0.80, -0.87, -0.89, -0.96, -1.00, -1.03, -1.11, -1.14, -1.22, -1.25,
    -0.03, -0.11, -0.15, -0.19, -0.27, -0.29, -0.35, -0.41, -0.43, -0.52, -0.54, -0.60, -0.66, -0.68, -0.75, -0.82, -0.84, -0.91, -0.95, -0.98, -1.06, -1.09, -1.17, -1.20,
    -0.03, -0.11, -0.15, -0.19, -0.27, -0.29, -0.35, -0.41, -0.43, -0.52, -0.54, -0.60, -0.66, -0.68, -0.75, -0.82, -0.84, -0.91, -0.95, -0.98, -1.06, -1.09, -1.17, -1.20,
    -0.08, -0.16, -0.20, -0.24, -0.32, -0.34, -0.40, -0.46, -0.48, -0.57, -0.59, -0.65, -0.71, -0.73, -0.80, -0.87, -0.89, -0.96, -1.00, -1.03, -1.11, -1.14, -1.22, -1.25,
    -0.03, -0.11, -0.15, -0.19, -0.27, -0.29, -0.35, -0.41, -0.43, -0.52, -0.54, -0.60, -0.66, -0.68, -0.75, -0.82, -0.84, -0.91, -0.95, -0.98, -1.06, -1.09, -1.17, -1.20,
    -0.08, -0.16, -0.20, -0.24, -0.32, -0.34, -0.40, -0.46, -0.48, -0.57, -0.59, -0.65, -0.71, -0.73, -0.80, -0.87, -0.89, -0.96, -1.00, -1.03, -1.11, -1.14, -1.22, -1.25,
    -0.13, -0.21, -0.25, -0.29, -0.37, -0.39, -0.45, -0.51, -0.53, -0.62, -0.64, -0.70, -0.76, -0.78, -0.85, -0.92, -0.94, -1.01, -1.05, -1.08, -1.16, -1.19, -1.27, -1.30,
    -0.08, -0.16, -0.20, -0.24, -0.32, -0.34, -0.40, -0.46, -0.48, -0.57, -0.59, -0.65, -0.71, -0.73, -0.80, -0.87, -0.89, -0.96, -1.00, -1.03, -1.11, -1.14, -1.22, -1.25,
    -0.18, -0.26, -0.30, -0.34, -0.42, -0.44, -0.50, -0.56, -0.58, -0.67, -0.69, -0.75, -0.81, -0.83, -0.90, -0.97, -0.99, -1.06, -1.10, -1.13, -1.21, -1.24, -1.32, -1.35,
    -0.28, -0.36, -0.40, -0.44, -0.52, -0.54, -0.60, -0.66, -0.68, -0.77, -0.79, -0.85, -0.91, -0.93, -1.00, -1.07, -1.09, -1.16, -1.20, -1.23, -1.31, -1.34, -1.42, -1.45,
    -0.33, -0.41, -0.45, -0.49, -0.57, -0.59, -0.65, -0.71, -0.73, -0.82, -0.84, -0.90, -0.96, -0.98, -1.05, -1.12, -1.14, -1.21, -1.25, -1.28, -1.36, -1.39, -1.47, -1.50,
    -0.38, -0.46, -0.50, -0.54, -0.62, -0.64, -0.70, -0.76, -0.78, -0.87, -0.89, -0.95, -1.01, -1.03, -1.10, -1.17, -1.19, -1.26, -1.30, -1.33, -1.41, -1.44, -1.52, -1.55,
    -0.43, -0.51, -0.55, -0.59, -0.67, -0.69, -0.75, -0.81, -0.83, -0.92, -0.94, -1.00, -1.06, -1.08, -1.15, -1.22, -1.24, -1.31, -1.35, -1.38, -1.46, -1.49, -1.57, -1.60,
    -0.33, -0.41, -0.45, -0.49, -0.57, -0.59, -0.65, -0.71, -0.73, -0.82, -0.84, -0.90, -0.96, -0.98, -1.05, -1.12, -1.14, -1.21, -1.25, -1.28, -1.36, -1.39, -1.47, -1.50,
    -0.38, -0.46, -0.50, -0.54, -0.62, -0.64, -0.70, -0.76, -0.78, -0.87, -0.89, -0.95, -1.01, -1.03, -1.10, -1.17, -1.19, -1.26, -1.30, -1.33, -1.41, -1.44, -1.52, -1.55,
    -0.33, -0.41, -0.45, -0.49, -0.57, -0.59, -0.65, -0.71, -0.73, -0.82, -0.84, -0.90, -0.96, -0.98, -1.05, -1.12, -1.14, -1.21, -1.25, -1.28, -1.36, -1.39, -1.47, -1.50,
    -0.28, -0.36, -0.40, -0.44, -0.52, -0.54, -0.60, -0.66, -0.68, -0.77, -0.79, -0.85, -0.91, -0.93, -1.00, -1.07, -1.09, -1.16, -1.20, -1.23, -1.31, -1.34, -1.42, -1.45,
    -0.33, -0.41, -0.45, -0.49, -0.57, -0.59, -0.65, -0.71, -0.73, -0.82, -0.84, -0.90, -0.96, -0.98, -1.05, -1.12, -1.14, -1.21, -1.25, -1.28, -1.36, -1.39, -1.47, -1.50,
    -0.38, -0.46, -0.50, -0.54, -0.62, -0.64, -0.70, -0.76, -0.78, -0.87, -0.89, -0.95, -1.01, -1.03, -1.10, -1.17, -1.19, -1.26, -1.30, -1.33, -1.41, -1.44, -1.52, -1.55,
    -0.38, -0.46, -0.50, -0.54, -0.62, -0.64, -0.70, -0.76, -0.78, -0.87, -0.89, -0.95, -1.01, -1.03, -1.10, -1.17, -1.19, -1.26, -1.30, -1.33, -1.41, -1.44, -1.52, -1.55,
    -0.48, -0.56, -0.60, -0.64, -0.72, -0.74, -0.80, -0.86, -0.88, -0.97, -0.99, -1.05, -1.11, -1.13, -1.20, -1.27, -1.29, -1.36, -1.40, -1.43, -1.51, -1.54, -1.62, -1.65,
    -0.58, -0.66, -0.70, -0.74, -0.82, -0.84, -0.90, -0.96, -0.98, -1.07, -1.09, -1.15, -1.21, -1.23, -1.30, -1.37, -1.39, -1.46, -1.50, -1.53, -1.61, -1.64, -1.72, -1.75,
    -0.63, -0.71, -0.75, -0.79, -0.87, -0.89, -0.95, -1.01, -1.03, -1.12, -1.14, -1.20, -1.26, -1.28, -1.35, -1.42, -1.44, -1.51, -1.55, -1.58, -1.66, -1.69, -1.77, -1.80,
    -0.68, -0.76, -0.80, -0.84, -0.92, -0.94, -1.00, -1.06, -1.08, -1.17, -1.19, -1.25, -1.31, -1.33, -1.40, -1.47, -1.49, -1.56, -1.60, -1.63, -1.71, -1.74, -1.82, -1.85,
    -0.68, -0.76, -0.80, -0.84, -0.92, -0.94, -1.00, -1.06, -1.08, -1.17, -1.19, -1.25, -1.31, -1.33, -1.40, -1.47, -1.49, -1.56, -1.60, -1.63, -1.71, -1.74, -1.82, -1.85,
    -0.68, -0.76, -0.80, -0.84, -0.92, -0.94, -1.00, -1.06, -1.08, -1.17, -1.19, -1.25, -1.31, -1.33, -1.40, -1.47, -1.49, -1.56, -1.60, -1.63, -1.71, -1.74, -1.82, -1.85,
    -0.68, -0.76, -0.80, -0.84, -0.92, -0.94, -1.00, -1.06, -1.08, -1.17, -1.19, -1.25, -1.31, -1.33, -1.40, -1.47, -1.49, -1.56, -1.60, -1.63, -1.71, -1.74, -1.82, -1.85,
    -0.68, -0.76, -0.80, -0.84, -0.92, -0.94, -1.00, -1.06, -1.08, -1.17, -1.19, -1.25, -1.31, -1.33, -1.40, -1.47, -1.49, -1.56, -1.60, -1.63, -1.71, -1.74, -1.82, -1.85,
    -0.73, -0.81, -0.85, -0.89, -0.97, -0.99, -1.05, -1.11, -1.13, -1.22, -1.24, -1.30, -1.36, -1.38, -1.45, -1.52, -1.54, -1.61, -1.65, -1.68, -1.76, -1.79, -1.87, -1.90,
    -0.68, -0.76, -0.80, -0.84, -0.92, -0.94, -1.00, -1.06, -1.08, -1.17, -1.19, -1.25, -1.31, -1.33, -1.40, -1.47, -1.49, -1.56, -1.60, -1.63, -1.71, -1.74, -1.82, -1.85,
    -0.58, -0.66, -0.70, -0.74, -0.82, -0.84, -0.90, -0.96, -0.98, -1.07, -1.09, -1.15, -1.21, -1.23, -1.30, -1.37, -1.39, -1.46, -1.50, -1.53, -1.61, -1.64, -1.72, -1.75,
    -0.63, -0.71, -0.75, -0.79, -0.87, -0.89, -0.95, -1.01, -1.03, -1.12, -1.14, -1.20, -1.26, -1.28, -1.35, -1.42, -1.44, -1.51, -1.55, -1.58, -1.66, -1.69, -1.77, -1.80,
    -0.58, -0.66, -0.70, -0.74, -0.82, -0.84, -0.90, -0.96, -0.98, -1.07, -1.09, -1.15, -1.21, -1.23, -1.30, -1.37, -1.39, -1.46, -1.50, -1.53, -1.61, -1.64, -1.72, -1.75,
    -0.63, -0.71, -0.75, -0.79, -0.87, -0.89, -0.95, -1.01, -1.03, -1.12, -1.14, -1.20, -1.26, -1.28, -1.35, -1.42, -1.44, -1.51, -1.55, -1.58, -1.66, -1.69, -1.77, -1.80,
    -0.68, -0.76, -0.80, -0.84, -0.92, -0.94, -1.00, -1.06, -1.08, -1.17, -1.19, -1.25, -1.31, -1.33, -1.40, -1.47, -1.49, -1.56, -1.60, -1.63, -1.71, -1.74, -1.82, -1.85,
    -0.73, -0.81, -0.85, -0.89, -0.97, -0.99, -1.05, -1.11, -1.13, -1.22, -1.24, -1.30, -1.36, -1.38, -1.45, -1.52, -1.54, -1.61, -1.65, -1.68, -1.76, -1.79, -1.87, -1.90,
    -0.78, -0.86, -0.90, -0.94, -1.02, -1.04, -1.10, -1.16, -1.18, -1.27, -1.29, -1.35, -1.41, -1.43, -1.50, -1.57, -1.59, -1.66, -1.70, -1.73, -1.81, -1.84, -1.92, -1.95,
    -0.88, -0.96, -1.00, -1.04, -1.12, -1.14, -1.20, -1.26, -1.28, -1.37, -1.39, -1.45, -1.51, -1.53, -1.60, -1.67, -1.69, -1.76, -1.80, -1.83, -1.91, -1.94, -2.02, -2.05,
    -0.93, -1.01, -1.05, -1.09, -1.17, -1.19, -1.25, -1.31, -1.33, -1.42, -1.44, -1.50, -1.56, -1.58, -1.65, -1.72, -1.74, -1.81, -1.85, -1.88, -1.96, -1.99, -2.07, -2.10,
    -0.88, -0.96, -1.00, -1.04, -1.12, -1.14, -1.20, -1.26, -1.28, -1.37, -1.39, -1.45, -1.51, -1.53, -1.60, -1.67, -1.69, -1.76, -1.80, -1.83, -1.91, -1.94, -2.02, -2.05,
    -0.83, -0.91, -0.95, -0.99, -1.07, -1.09, -1.15, -1.21, -1.23, -1.32, -1.34, -1.40, -1.46, -1.48, -1.55, -1.62, -1.64, -1.71, -1.75, -1.78, -1.86, -1.89, -1.97, -2.00,
    -0.78, -0.86, -0.90, -0.94, -1.02, -1.04, -1.10, -1.16, -1.18, -1.27, -1.29, -1.35, -1.41, -1.43, -1.50, -1.57, -1.59, -1.66, -1.70, -1.73, -1.81, -1.84, -1.92, -1.95,
    -0.68, -0.76, -0.80, -0.84, -0.92, -0.94, -1.00, -1.06, -1.08, -1.17, -1.19, -1.25, -1.31, -1.33, -1.40, -1.47, -1.49, -1.56, -1.60, -1.63, -1.71, -1.74, -1.82, -1.85,
    -0.73, -0.81, -0.85, -0.89, -0.97, -0.99, -1.05, -1.11, -1.13, -1.22, -1.24, -1.30, -1.36, -1.38, -1.45, -1.52, -1.54, -1.61, -1.65, -1.68, -1.76, -1.79, -1.87, -1.90,
    -0.68, -0.76, -0.80, -0.84, -0.92, -0.94, -1.00, -1.06, -1.08, -1.17, -1.19, -1.25, -1.31, -1.33, -1.40, -1.47, -1.49, -1.56, -1.60, -1.63, -1.71, -1.74, -1.82, -1.85,
    -0.78, -0.86, -0.90, -0.94, -1.02, -1.04, -1.10, -1.16, -1.18, -1.27, -1.29, -1.35, -1.41, -1.43, -1.50, -1.57, -1.59, -1.66, -1.70, -1.73, -1.81, -1.84, -1.92, -1.95,
    -0.78, -0.86, -0.90, -0.94, -1.02, -1.04, -1.10, -1.16, -1.18, -1.27, -1.29, -1.35, -1.41, -1.43, -1.50, -1.57, -1.59, -1.66, -1.70, -1.73, -1.81, -1.84, -1.92, -1.95,
    -0.83, -0.91, -0.95, -0.99, -1.07, -1.09, -1.15, -1.21, -1.23, -1.32, -1.34, -1.40, -1.46, -1.48, -1.55, -1.62, -1.64, -1.71, -1.75, -1.78, -1.86, -1.89, -1.97, -2.00,
    -0.78, -0.86, -0.90, -0.94, -1.02, -1.04, -1.10, -1.16, -1.18, -1.27, -1.29, -1.35, -1.41, -1.43, -1.50, -1.57, -1.59, -1.66, -1.70, -1.73, -1.81, -1.84, -1.92, -1.95,
    -0.83, -0.91, -0.95, -0.99, -1.07, -1.09, -1.15, -1.21, -1.23, -1.32, -1.34, -1.40, -1.46, -1.48, -1.55, -1.62, -1.64, -1.71, -1.75, -1.78, -1.86, -1.89, -1.97, -2.00,
    -0.78, -0.86, -0.90, -0.94, -1.02, -1.04, -1.10, -1.16, -1.18, -1.27, -1.29, -1.35, -1.41, -1.43, -1.50, -1.57, -1.59, -1.66, -1.70, -1.73, -1.81, -1.84, -1.92, -1.95,
    -0.78, -0.86, -0.90, -0.94, -1.02, -1.04, -1.10, -1.16, -1.18, -1.27, -1.29, -1.35, -1.41, -1.43, -1.50, -1.57, -1.59, -1.66, -1.70, -1.73, -1.81, -1.84, -1.92, -1.95,
]

# lower body of the measured cloud, 12 samples per 0.1 s
mid_t = [
    11.65, 11.63, 11.68, 11.63, 11.69, 11.62, 11.66, 11.62, 11.67, 11.64, 11.69, 11.63,
    11.75, 11.71, 11.78, 11.73, 11.79, 11.70, 11.76, 11.72, 11.77, 11.74, 11.79, 11.71,
    11.82, 11.87, 11.84, 11.89, 11.80, 11.85, 11.81, 11.88, 11.83, 11.86, 11.80, 11.87,
    11.98, 11.94, 11.90, 11.96, 11.92, 11.99, 11.95, 11.91, 11.97, 11.93, 11.95, 11.99,
    12.05, 12.01, 12.08, 12.03, 12.09, 12.00, 12.06, 12.02, 12.07, 12.04, 12.09, 12.01,
    12.12, 12.17, 12.14, 12.19, 12.10, 12.15, 12.11, 12.18, 12.13, 12.16, 12.10, 12.17,
    12.28, 12.24, 12.20, 12.26, 12.22, 12.29, 12.25, 12.21, 12.27, 12.23, 12.25, 12.29,
    12.35, 12.31, 12.38, 12.33, 12.39, 12.30, 12.36, 12.32, 12.37, 12.34, 12.39, 12.31,
    12.42, 12.47, 12.44, 12.49, 12.40, 12.45, 12.41, 12.48, 12.43, 12.46, 12.40, 12.47,
    12.58, 12.54, 12.50, 12.56, 12.52, 12.59, 12.55, 12.51, 12.57, 12.53, 12.55, 12.59,
    12.65, 12.61, 12.68, 12.63, 12.69, 12.60, 12.66, 12.62, 12.67, 12.64, 12.69, 12.61,
    12.72, 12.77, 12.74, 12.79, 12.70, 12.75, 12.71, 12.78, 12.73, 12.76, 12.70, 12.77,
    12.88, 12.84, 12.80, 12.86, 12.82, 12.89, 12.85, 12.81, 12.87, 12.83, 12.85, 12.89,
    12.95, 12.91, 12.98, 12.93, 12.99, 12.90, 12.96, 12.92, 12.97, 12.94, 12.99, 12.91,
    13.02, 13.07, 13.04, 13.09, 13.00, 13.05, 13.01, 13.08, 13.03, 13.06, 13.00, 13.07,
    13.18, 13.14, 13.10, 13.16, 13.12, 13.19, 13.15, 13.11, 13.17, 13.13, 13.15, 13.19,
    13.25, 13.21, 13.28, 13.23, 13.29, 13.20, 13.26, 13.22, 13.27, 13.24, 13.29, 13.21,
    13.32, 13.37, 13.34, 13.39, 13.30, 13.35, 13.31, 13.38, 13.33, 13.36, 13.30, 13.37,
    13.48, 13.44, 13.40, 13.46, 13.42, 13.49, 13.45, 13.41, 13.47, 13.43, 13.45, 13.49,
    13.55, 13.51, 13.58, 13.53, 13.59, 13.50, 13.56, 13.52, 13.57, 13.54, 13.59, 13.51,
    13.62, 13.67, 13.64, 13.69, 13.60, 13.65, 13.61, 13.68, 13.63, 13.66, 13.60, 13.67,
    13.78, 13.74, 13.70, 13.76, 13.72, 13.79, 13.75, 13.71, 13.77, 13.73, 13.75, 13.79,
    13.85, 13.81, 13.88, 13.83, 13.89, 13.80, 13.86, 13.82, 13.87, 13.84, 13.89, 13.81,
    13.92, 13.97, 13.94, 13.99, 13.90, 13.95, 13.91, 13.98, 13.93, 13.96, 13.90, 13.97,
    14.08, 14.04, 14.00, 14.06, 14.02, 14.09, 14.05, 14.01, 14.07, 14.03, 14.05, 14.09,
    14.15, 14.11, 14.18, 14.13, 14.19, 14.10, 14.16, 14.12, 14.17, 14.14, 14.19, 14.11,
    14.22, 14.27, 14.24, 14.29, 14.20, 14.25, 14.21, 14.28, 14.23, 14.26, 14.20, 14.27,
    14.38, 14.34, 14.30, 14.36, 14.32, 14.39, 14.35, 14.31, 14.37, 14.33, 14.35, 14.39,
    14.45, 14.41, 14.48, 14.43, 14.49, 14.40, 14.46, 14.42, 14.47, 14.44, 14.49, 14.41,
    14.52, 14.57, 14.54, 14.59, 14.50, 14.55, 14.51, 14.58, 14.53, 14.56, 14.50, 14.57,
    14.68, 14.64, 14.60, 14.66, 14.62, 14.69, 14.65, 14.61, 14.67, 14.63, 14.65, 14.69,
    14.75, 14.71, 14.78, 14.73, 14.79, 14.70, 14.76, 14.72, 14.77, 14.74, 14.79, 14.71,
    14.82, 14.87, 14.84, 14.89, 14.80, 14.85, 14.81, 14.88, 14.83, 14.86, 14.80, 14.87,
    14.98, 14.94, 14.90, 14.96, 14.92, 14.99, 14.95, 14.91, 14.97, 14.93, 14.95, 14.99,
    15.05, 15.01, 15.08, 15.03, 15.09, 15.00, 15.06, 15.02, 15.07, 15.04, 15.09, 15.01,
    15.12, 15.17, 15.14, 15.19, 15.10, 15.15, 15.11, 15.18, 15.13, 15.16, 15.10, 15.17,
    15.28, 15.24, 15.20, 15.26, 15.22, 15.29, 15.25, 15.21, 15.27, 15.23, 15.25, 15.29,
    15.35, 15.31, 15.38, 15.33, 15.39, 15.30, 15.36, 15.32, 15.37, 15.34, 15.39, 15.31,
    15.42, 15.47, 15.44, 15.49, 15.40, 15.45, 15.41, 15.48, 15.43, 15.46, 15.40, 15.47,
    15.58, 15.54, 15.50, 15.56, 15.52, 15.59, 15.55, 15.51, 15.57, 15.53, 15.55, 15.59,
    15.65, 15.61, 15.68, 15.63, 15.69, 15.60, 15.66, 15.62, 15.67, 15.64, 15.69, 15.61,
    15.72, 15.77, 15.74, 15.79, 15.70, 15.75, 15.71, 15.78, 15.73, 15.76, 15.70, 15.77,
    15.88, 15.84, 15.80, 15.86, 15.82, 15.89, 15.85, 15.81, 15.87, 15.83, 15.85, 15.89,
    15.95, 15.91, 15.98, 15.93, 15.99, 15.90, 15.96, 15.92, 15.97, 15.94, 15.99, 15.91,
    16.02, 16.07, 16.04, 16.09, 16.00, 16.05, 16.01, 16.08, 16.03, 16.06, 16.00, 16.07,
    16.18, 16.14, 16.10, 16.16, 16.12, 16.19, 16.15, 16.11, 16.17, 16.13, 16.15, 16.19,
    16.25, 16.21, 16.28, 16.23, 16.29, 16.20, 16.26, 16.22, 16.27, 16.24, 16.29, 16.21,
    16.32, 16.37, 16.34, 16.39, 16.30, 16.35, 16.31, 16.38, 16.33, 16.36, 16.30, 16.37,
    16.48, 16.44, 16.40, 16.46, 16.42, 16.49, 16.45, 16.41, 16.47, 16.43, 16.45, 16.49,
    16.55, 16.51, 16.58, 16.53, 16.59, 16.50, 16.56, 16.52, 16.57, 16.54, 16.59, 16.51,
    16.62, 16.67, 16.64, 16.69, 16.60, 16.65, 16.61, 16.68, 16.63, 16.66, 16.60, 16.67,
    16.78, 16.74, 16.70, 16.76, 16.72, 16.79, 16.75, 16.71, 16.77, 16.73, 16.75, 16.79,
    16.85, 16.81, 16.88, 16.83, 16.89, 16.80, 16.86, 16.82, 16.87, 16.84, 16.89, 16.81,
    16.92, 16.97, 16.94, 16.99, 16.90, 16.95, 16.91, 16.98, 16.93, 16.96, 16.90, 16.97,
    17.08, 17.04, 17.00, 17.06, 17.02, 17.09, 17.05, 17.01, 17.07, 17.03, 17.05, 17.09,
    17.15, 17.11, 17.18, 17.13, 17.19, 17.10, 17.16, 17.12, 17.17, 17.14, 17.19, 17.11,
    17.22, 17.27, 17.24, 17.29, 17.20, 17.25, 17.21, 17.28, 17.23, 17.26, 17.20, 17.27,
    17.38, 17.34, 17.30, 17.36, 17.32, 17.39, 17.35, 17.31, 17.37, 17.33, 17.35, 17.39,
    17.45, 17.41, 17.48, 17.43, 17.49, 17.40, 17.46, 17.42, 17.47, 17.44, 17.49, 17.41,
    17.52, 17.57, 17.54, 17.59, 17.50, 17.55, 17.51, 17.58, 17.53, 17.56, 17.50, 17.57,
    17.68, 17.64, 17.60, 17.66, 17.62, 17.69, 17.65, 17.61, 17.67, 17.63, 17.65, 17.69,
    17.75, 17.71, 17.78, 17.73, 17.79, 17.70, 17.76, 17.72, 17.77, 17.74, 17.79, 17.71,
    17.82, 17.87, 17.84, 17.89, 17.80, 17.85, 17.81, 17.88, 17.83, 17.86, 17.80, 17.87,
    17.98, 17.94, 17.90, 17.96, 17.92, 17.99, 17.95, 17.91, 17.97, 17.93, 17.95, 17.99,
    18.05, 18.01, 18.08, 18.03, 18.09, 18.00, 18.06, 18.02, 18.07, 18.04, 18.09, 18.01,
    18.12, 18.17, 18.14, 18.19, 18.10, 18.15, 18.11, 18.18, 18.13, 18.16, 18.10, 18.17,
    18.28, 18.24, 18.20, 18.26, 18.22, 18.29, 18.25, 18.21, 18.27, 18.23, 18.25, 18.29,
    18.35, 18.31, 18.38, 18.33, 18.39, 18.30, 18.36, 18.32, 18.37, 18.34, 18.39, 18.31,
    18.42, 18.47, 18.44, 18.49, 18.40, 18.45, 18.41, 18.48, 18.43, 18.46, 18.40, 18.47,
    18.58, 18.54, 18.50, 18.56, 18.52, 18.59, 18.55, 18.51, 18.57, 18.53, 18.55, 18.59,
    18.65, 18.61, 18.68, 18.63, 18.69, 18.60, 18.66, 18.62, 18.67, 18.64, 18.69, 18.61,
    18.72, 18.77, 18.74, 18.79, 18.70, 18.75, 18.71, 18.78, 18.73, 18.76, 18.70, 18.77,
    18.88, 18.84, 18.80, 18.86, 18.82, 18.89, 18.85, 18.81, 18.87, 18.83, 18.85, 18.89,
    18.95, 18.91, 18.98, 18.93, 18.99, 18.90, 18.96, 18.92, 18.97, 18.94, 18.99, 18.91,
    19.02, 19.07, 19.04, 19.09, 19.00, 19.05, 19.01, 19.08, 19.03, 19.06, 19.00, 19.07,
    19.18, 19.14, 19.10, 19.16, 19.12, 19.19, 19.15, 19.11, 19.17, 19.13, 19.15, 19.19,
    19.25, 19.21, 19.28, 19.23, 19.28, 19.20, 19.26, 19.22, 19.27, 19.24, 19.28, 19.21,
]
mid_log = [
    -0.95, -1.04, -1.12, -1.22, -1.30, -1.39, -1.48, -1.56, -1.65, -1.75, -1.83, -1.92,
    -1.35, -1.44, -1.52, -1.62, -1.70, -1.79, -1.88, -1.96, -2.05, -2.15, -2.23, -2.32,
    -1.45, -1.54, -1.62, -1.72, -1.80, -1.89, -1.98, -2.06, -2.15, -2.25, -2.33, -2.42,
    -1.45, -1.54, -1.62, -1.72, -1.80, -1.89, -1.98, -2.06, -2.15, -2.25, -2.33, -2.42,
    -1.45, -1.54, -1.62, -1.72, -1.80, -1.89, -1.98, -2.06, -2.15, -2.25, -2.33, -2.42,
    -1.45, -1.54, -1.62, -1.72, -1.80, -1.89, -1.98, -2.06, -2.15, -2.25, -2.33, -2.42,
    -1.45, -1.54, -1.62, -1.72, -1.80, -1.89, -1.98, -2.06, -2.15, -2.25, -2.33, -2.42,
    -1.45, -1.54, -1.62, -1.72, -1.80, -1.89, -1.98, -2.06, -2.15, -2.25, -2.33, -2.42,
    -1.45, -1.54, -1.62, -1.72, -1.80, -1.89, -1.98, -2.06, -2.15, -2.25, -2.33, -2.42,
    -1.45, -1.54, -1.62, -1.72, -1.80, -1.89, -1.98, -2.06, -2.15, -2.25, -2.33, -2.42,
    -1.55, -1.64, -1.72, -1.82, -1.90, -1.99, -2.08, -2.16, -2.25, -2.35, -2.43, -2.52,
    -1.55, -1.64, -1.72, -1.82, -1.90, -1.99, -2.08, -2.16, -2.25, -2.35, -2.43, -2.52,
    -1.65, -1.74, -1.82, -1.92, -2.00, -2.09, -2.18, -2.26, -2.35, -2.45, -2.53, -2.62,
    -1.65, -1.74, -1.82, -1.92, -2.00, -2.09, -2.18, -2.26, -2.35, -2.45, -2.53, -2.62,
    -1.65, -1.74, -1.82, -1.92, -2.00, -2.09, -2.18, -2.26, -2.35, -2.45, -2.53, -2.62,
    -1.65, -1.74, -1.82, -1.92, -2.00, -2.09, -2.18, -2.26, -2.35, -2.45, -2.53, -2.62,
    -1.55, -1.64, -1.72, -1.82, -1.90, -1.99, -2.08, -2.16, -2.25, -2.35, -2.43, -2.52,
    -1.55, -1.64, -1.72, -1.82, -1.90, -1.99, -2.08, -2.16, -2.25, -2.35, -2.43, -2.52,
    -1.55, -1.64, -1.72, -1.82, -1.90, -1.99, -2.08, -2.16, -2.25, -2.35, -2.43, -2.52,
    -1.55, -1.64, -1.72, -1.82, -1.90, -1.99, -2.08, -2.16, -2.25, -2.35, -2.43, -2.52,
    -1.55, -1.64, -1.72, -1.82, -1.90, -1.99, -2.08, -2.16, -2.25, -2.35, -2.43, -2.52,
    -1.45, -1.54, -1.62, -1.72, -1.80, -1.89, -1.98, -2.06, -2.15, -2.25, -2.33, -2.42,
    -1.45, -1.54, -1.62, -1.72, -1.80, -1.89, -1.98, -2.06, -2.15, -2.25, -2.33, -2.42,
    -1.45, -1.54, -1.62, -1.72, -1.80, -1.89, -1.98, -2.06, -2.15, -2.25, -2.33, -2.42,
    -1.35, -1.44, -1.52, -1.62, -1.70, -1.79, -1.88, -1.96, -2.05, -2.15, -2.23, -2.32,
    -1.35, -1.44, -1.52, -1.62, -1.70, -1.79, -1.88, -1.96, -2.05, -2.15, -2.23, -2.32,
    -1.35, -1.44, -1.52, -1.62, -1.70, -1.79, -1.88, -1.96, -2.05, -2.15, -2.23, -2.32,
    -1.35, -1.44, -1.52, -1.62, -1.70, -1.79, -1.88, -1.96, -2.05, -2.15, -2.23, -2.32,
    -1.35, -1.44, -1.52, -1.62, -1.70, -1.79, -1.88, -1.96, -2.05, -2.15, -2.23, -2.32,
    -1.35, -1.44, -1.52, -1.62, -1.70, -1.79, -1.88, -1.96, -2.05, -2.15, -2.23, -2.32,
    -1.35, -1.44, -1.52, -1.62, -1.70, -1.79, -1.88, -1.96, -2.05, -2.15, -2.23, -2.32,
    -1.45, -1.54, -1.62, -1.72, -1.80, -1.89, -1.98, -2.06, -2.15, -2.25, -2.33, -2.42,
    -1.45, -1.54, -1.62, -1.72, -1.80, -1.89, -1.98, -2.06, -2.15, -2.25, -2.33, -2.42,
    -1.45, -1.54, -1.62, -1.72, -1.80, -1.89, -1.98, -2.06, -2.15, -2.25, -2.33, -2.42,
    -1.55, -1.64, -1.72, -1.82, -1.90, -1.99, -2.08, -2.16, -2.25, -2.35, -2.43, -2.52,
    -1.55, -1.64, -1.72, -1.82, -1.90, -1.99, -2.08, -2.16, -2.25, -2.35, -2.43, -2.52,
    -1.45, -1.54, -1.62, -1.72, -1.80, -1.89, -1.98, -2.06, -2.15, -2.25, -2.33, -2.42,
    -1.45, -1.54, -1.62, -1.72, -1.80, -1.89, -1.98, -2.06, -2.15, -2.25, -2.33, -2.42,
    -1.45, -1.54, -1.62, -1.72, -1.80, -1.89, -1.98, -2.06, -2.15, -2.25, -2.33, -2.42,
    -1.45, -1.54, -1.62, -1.72, -1.80, -1.89, -1.98, -2.06, -2.15, -2.25, -2.33, -2.42,
    -1.35, -1.44, -1.52, -1.62, -1.70, -1.79, -1.88, -1.96, -2.05, -2.15, -2.23, -2.32,
    -1.25, -1.34, -1.42, -1.52, -1.60, -1.69, -1.78, -1.86, -1.95, -2.05, -2.13, -2.22,
    -1.15, -1.24, -1.32, -1.42, -1.50, -1.59, -1.68, -1.76, -1.85, -1.95, -2.03, -2.12,
    -1.15, -1.24, -1.32, -1.42, -1.50, -1.59, -1.68, -1.76, -1.85, -1.95, -2.03, -2.12,
    -1.15, -1.24, -1.32, -1.42, -1.50, -1.59, -1.68, -1.76, -1.85, -1.95, -2.03, -2.12,
    -1.15, -1.24, -1.32, -1.42, -1.50, -1.59, -1.68, -1.76, -1.85, -1.95, -2.03, -2.12,
    -1.05, -1.14, -1.22, -1.32, -1.40, -1.49, -1.58, -1.66, -1.75, -1.85, -1.93, -2.02,
    -1.05, -1.14, -1.22, -1.32, -1.40, -1.49, -1.58, -1.66, -1.75, -1.85, -1.93, -2.02,
    -1.05, -1.14, -1.22, -1.32, -1.40, -1.49, -1.58, -1.66, -1.75, -1.85, -1.93, -2.02,
    -1.05, -1.14, -1.22, -1.32, -1.40, -1.49, -1.58, -1.66, -1.75, -1.85, -1.93, -2.02,
    -1.05, -1.14, -1.22, -1.32, -1.40, -1.49, -1.58, -1.66, -1.75, -1.85, -1.93, -2.02,
    -1.15, -1.24, -1.32, -1.42, -1.50, -1.59, -1.68, -1.76, -1.85, -1.95, -2.03, -2.12,
    -1.15, -1.24, -1.32, -1.42, -1.50, -1.59, -1.68, -1.76, -1.85, -1.95, -2.03, -2.12,
    -1.15, -1.24, -1.32, -1.42, -1.50, -1.59, -1.68, -1.76, -1.85, -1.95, -2.03, -2.12,
    -1.15, -1.24, -1.32, -1.42, -1.50, -1.59, -1.68, -1.76, -1.85, -1.95, -2.03, -2.12,
    -1.15, -1.24, -1.32, -1.42, -1.50, -1.59, -1.68, -1.76, -1.85, -1.95, -2.03, -2.12,
    -1.15, -1.24, -1.32, -1.42, -1.50, -1.59, -1.68, -1.76, -1.85, -1.95, -2.03, -2.12,
    -1.15, -1.24, -1.32, -1.42, -1.50, -1.59, -1.68, -1.76, -1.85, -1.95, -2.03, -2.12,
    -1.15, -1.24, -1.32, -1.42, -1.50, -1.59, -1.68, -1.76, -1.85, -1.95, -2.03, -2.12,
    -1.25, -1.34, -1.42, -1.52, -1.60, -1.69, -1.78, -1.86, -1.95, -2.05, -2.13, -2.22,
    -1.25, -1.34, -1.42, -1.52, -1.60, -1.69, -1.78, -1.86, -1.95, -2.05, -2.13, -2.22,
    -1.35, -1.44, -1.52, -1.62, -1.70, -1.79, -1.88, -1.96, -2.05, -2.15, -2.23, -2.32,
    -1.45, -1.54, -1.62, -1.72, -1.80, -1.89, -1.98, -2.06, -2.15, -2.25, -2.33, -2.42,
    -1.45, -1.54, -1.62, -1.72, -1.80, -1.89, -1.98, -2.06, -2.15, -2.25, -2.33, -2.42,
    -1.45, -1.54, -1.62, -1.72, -1.80, -1.89, -1.98, -2.06, -2.15, -2.25, -2.33, -2.42,
    -1.35, -1.44, -1.52, -1.62, -1.70, -1.79, -1.88, -1.96, -2.05, -2.15, -2.23, -2.32,
    -1.25, -1.34, -1.42, -1.52, -1.60, -1.69, -1.78, -1.86, -1.95, -2.05, -2.13, -2.22,
    -1.25, -1.34, -1.42, -1.52, -1.60, -1.69, -1.78, -1.86, -1.95, -2.05, -2.13, -2.22,
    -1.15, -1.24, -1.32, -1.42, -1.50, -1.59, -1.68, -1.76, -1.85, -1.95, -2.03, -2.12,
    -1.15, -1.24, -1.32, -1.42, -1.50, -1.59, -1.68, -1.76, -1.85, -1.95, -2.03, -2.12,
    -1.15, -1.24, -1.32, -1.42, -1.50, -1.59, -1.68, -1.76, -1.85, -1.95, -2.03, -2.12,
    -1.15, -1.24, -1.32, -1.42, -1.50, -1.59, -1.68, -1.76, -1.85, -1.95, -2.03, -2.12,
    -1.25, -1.34, -1.42, -1.52, -1.60, -1.69, -1.78, -1.86, -1.95, -2.05, -2.13, -2.22,
    -1.25, -1.34, -1.42, -1.52, -1.60, -1.69, -1.78, -1.86, -1.95, -2.05, -2.13, -2.22,
    -1.25, -1.34, -1.42, -1.52, -1.60, -1.69, -1.78, -1.86, -1.95, -2.05, -2.13, -2.22,
    -1.15, -1.24, -1.32, -1.42, -1.50, -1.59, -1.68, -1.76, -1.85, -1.95, -2.03, -2.12,
    -1.15, -1.24, -1.32, -1.42, -1.50, -1.59, -1.68, -1.76, -1.85, -1.95, -2.03, -2.12,
]

# sparse lower values of the measured delay changes
low_t = [11.66, 11.76, 11.84, 12.11, 12.19, 12.27, 12.36, 12.44, 12.58, 12.66,
         12.74, 12.86, 12.97, 13.03, 13.17, 13.33, 13.46, 13.58, 13.72, 13.86,
         14.09, 14.15, 14.33, 14.46, 14.62, 14.81, 14.88, 15.06, 15.15, 15.27,
         15.36, 15.52, 15.63, 15.81, 16.05, 16.27, 16.46, 16.56, 16.74, 16.93,
         17.12, 17.24, 17.38, 17.61, 17.76, 17.91, 18.05, 18.18, 18.31, 18.44,
         18.57, 18.66, 18.84, 19.01, 19.13, 19.25]
low_log = [-2.75, -3.05, -2.60, -2.95, -2.62, -3.15, -2.70, -3.22, -2.90, -3.30,
           -2.62, -3.10, -2.70, -3.15, -2.95, -3.05, -2.70, -3.20, -2.85, -3.12,
           -2.80, -3.05, -2.70, -2.95, -3.10, -2.75, -3.20, -2.85, -3.15, -2.90,
           -3.05, -3.20, -2.85, -2.70, -2.75, -2.85, -2.95, -3.10, -2.90, -3.05,
           -2.90, -3.15, -2.80, -3.05, -2.95, -3.10, -2.85, -3.15, -2.80, -3.00,
           -2.90, -3.20, -2.95, -3.05, -2.80, -3.00]
deep_t = [11.90, 12.05, 12.51, 13.05, 13.09, 13.14, 13.21, 13.23, 13.23, 13.54,
          13.64, 13.80, 13.82, 13.90, 14.00, 14.04, 14.22, 14.53, 14.97, 15.70,
          15.96, 16.00, 16.18, 16.20, 16.34, 16.62, 16.67, 16.88, 16.87, 17.05,
          17.30, 17.47, 17.55, 17.70, 17.82, 18.73, 18.93, 19.10, 19.17]
deep_log = [-3.96, -3.33, -3.68, -3.43, -3.60, -3.80, -4.50, -3.53, -3.37, -3.53,
            -3.89, -3.81, -3.66, -3.36, -3.53, -3.62, -4.00, -3.26, -3.55, -3.00,
            -3.08, -3.74, -3.26, -3.30, -3.43, -3.66, -3.34, -3.66, -3.82, -3.81,
            -3.82, -3.36, -3.60, -3.52, -3.60, -3.52, -3.56, -3.29, -3.50]
high_t = [11.98, 12.08, 12.16, 12.32, 14.40, 14.72, 14.74]
high_log = [0.52, 0.72, 0.89, 0.83, 0.47, 0.99, 0.99]

# updated delay threshold
thr_t = [11.62, 11.63, 11.64, 11.66, 11.70, 11.75, 11.80, 11.85, 11.90, 11.95,
         12.00, 12.05, 12.10, 12.15, 12.20, 12.25, 12.30, 12.35, 12.40, 12.45,
         12.50, 12.55, 12.60, 12.65, 12.70, 12.75, 12.80, 12.85, 12.88, 12.92,
         12.96, 13.00, 13.05, 13.10, 13.15, 13.20, 13.25, 13.30, 13.35, 13.40,
         13.45, 13.50, 13.55, 13.60, 13.65, 13.70, 13.75, 13.80, 13.85, 13.90,
         13.95, 14.00, 14.05, 14.10, 14.15, 14.20, 14.25, 14.30, 14.35, 14.40,
         14.45, 14.50, 14.55, 14.60, 14.65, 14.70, 14.75, 14.80, 14.85, 14.90,
         14.95, 15.00, 15.05, 15.10, 15.15, 15.20, 15.25, 15.28, 15.32, 15.36,
         15.40, 15.45, 15.50, 15.55, 15.60, 15.65, 15.70, 15.75, 15.80, 15.85,
         15.90, 15.95, 16.00, 16.05, 16.10, 16.15, 16.20, 16.25, 16.30, 16.35,
         16.40, 16.45, 16.50, 16.55, 16.60, 16.65, 16.70, 16.75, 16.80, 16.85,
         16.90, 16.95, 17.00, 17.05, 17.10, 17.15, 17.20, 17.25, 17.30, 17.35,
         17.40, 17.45, 17.50, 17.55, 17.60, 17.65, 17.70, 17.75, 17.80, 17.85,
         17.90, 17.95, 18.00, 18.05, 18.10, 18.15, 18.20, 18.25, 18.30, 18.35,
         18.40, 18.45, 18.50, 18.55, 18.60, 18.65, 18.70, 18.75, 18.80, 18.85,
         18.90, 18.95, 19.00, 19.05, 19.10, 19.15, 19.20, 19.25, 19.28]
thr_log = [0.30, 0.40, 0.55, 0.58, 0.53, 0.50, 0.47, 0.46, 0.45, 0.44,
           0.45, 0.46, 0.46, 0.45, 0.44, 0.43, 0.41, 0.39, 0.36, 0.33,
           0.29, 0.25, 0.21, 0.16, 0.11, 0.05, 0.00, -0.05, -0.07, -0.03,
           -0.04, -0.07, -0.10, -0.13, -0.15, -0.16, -0.18, -0.19, -0.21, -0.25,
           -0.29, -0.29, -0.29, -0.30, -0.29, -0.27, -0.27, -0.26, -0.26, -0.25,
           -0.24, -0.22, -0.19, -0.15, -0.10, -0.04, 0.02, 0.08, 0.13, 0.17,
           0.21, 0.23, 0.24, 0.26, 0.28, 0.31, 0.36, 0.32, 0.33, 0.33,
           0.32, 0.30, 0.27, 0.25, 0.20, 0.11, 0.01, -0.05, -0.04, -0.08,
           -0.10, -0.12, -0.14, -0.15, -0.14, -0.12, -0.11, -0.10, -0.08, -0.07,
           -0.05, -0.03, -0.02, -0.01, -0.01, -0.03, -0.05, -0.08, -0.11, -0.15,
           -0.18, -0.21, -0.24, -0.27, -0.29, -0.31, -0.31, -0.32, -0.33, -0.33,
           -0.31, -0.27, -0.23, -0.20, -0.18, -0.16, -0.15, -0.14, -0.15, -0.16,
           -0.18, -0.21, -0.25, -0.29, -0.33, -0.37, -0.40, -0.43, -0.46, -0.49,
           -0.50, -0.50, -0.48, -0.45, -0.42, -0.41, -0.40, -0.38, -0.35, -0.31,
           -0.29, -0.28, -0.28, -0.29, -0.30, -0.30, -0.31, -0.34, -0.36, -0.37,
           -0.38, -0.38, -0.39, -0.40, -0.41, -0.41, -0.42, -0.43, -0.43]
thr_out_t = [11.62, 11.62, 11.63, 11.64, 11.66, 11.70, 11.75, 11.79, 11.84, 11.90,
             11.95, 12.00, 12.05, 12.12, 12.16, 12.20, 12.26, 12.33, 12.45, 14.50,
             14.63, 14.66, 14.86, 14.87, 11.62, 11.62]
thr_out_log = [1.00, 0.77, 0.72, 0.74, 0.68, 0.62, 0.63, 0.61, 0.64, 0.70,
               0.68, 0.71, 0.66, 0.60, 0.62, 0.56, 0.58, 0.55, 0.68, 0.60,
               0.61, 0.52, 0.61, 0.54, 0.25, 0.18]

x_ticks = [10, 12, 14, 16, 18, 20]
y_ticks = [1e-4, 1e-2, 1e0]
y_tick_labels = [r'$10^{-4}$', r'$10^{-2}$', r'$10^{0}$']
labels = ['Measured delay changes', 'Updated delay threshold']

# ---------------- style ----------------
plt.rcParams['font.family'] = ['Liberation Serif', 'DejaVu Serif']
plt.rcParams['mathtext.fontset'] = 'custom'
plt.rcParams['mathtext.rm'] = 'Liberation Serif'
plt.rcParams['mathtext.it'] = 'Liberation Serif:italic'
plt.rcParams['mathtext.bf'] = 'Liberation Serif:bold'

BLUE = '#0072BD'
ORANGE = '#D95319'
AXC = '#262626'

fig = plt.figure(figsize=(6, 3.74), dpi=100)
ax = fig.add_axes([0.138, 0.1925, 0.842, 0.7915])

dot = dict(marker='o', linestyle='none', markersize=2.6, markeredgewidth=0)
for tt, vv in [(meas_t, meas_log), (core_t, core_log), (mid_t, mid_log),
               (low_t, low_log), (deep_t, deep_log), (high_t, high_log)]:
    ax.plot(tt, 10.0 ** np.asarray(vv), color=BLUE, **dot)

ax.plot(thr_t, 10.0 ** np.asarray(thr_log), color=ORANGE, lw=2.8,
        solid_capstyle='round', solid_joinstyle='round')
ax.plot(thr_out_t, 10.0 ** np.asarray(thr_out_log), color=ORANGE, **dot)

ax.set_yscale('log')
ax.set_xlim(10, 20)
ax.set_ylim(1e-5, 10 ** 1.3)

ax.xaxis.set_major_locator(FixedLocator(x_ticks))
ax.xaxis.set_minor_locator(MultipleLocator(0.5))
ax.yaxis.set_major_locator(FixedLocator(y_ticks))
ax.yaxis.set_major_formatter(FixedFormatter(y_tick_labels))
ax.yaxis.set_minor_locator(LogLocator(base=10, subs=np.arange(1, 10), numticks=50))
ax.yaxis.set_minor_formatter(NullFormatter())

ax.grid(True, which='major', color='#dadada', lw=0.7, ls='-')
ax.grid(True, which='minor', color='#c4c4c4', lw=0.6, ls=(0, (1, 2)))
ax.set_axisbelow(True)

ax.tick_params(which='both', direction='in', top=True, right=True, colors=AXC,
               labelsize=15, labelcolor=AXC)
ax.tick_params(which='major', length=5, width=0.7)
ax.tick_params(axis='x', which='major', pad=8)
ax.tick_params(axis='y', which='major', pad=6)
ax.tick_params(axis='x', which='minor', length=0)
ax.tick_params(axis='y', which='minor', length=2.5, width=0.6)
for s in ax.spines.values():
    s.set_color(AXC)
    s.set_linewidth(0.8)

ax.set_xlabel('Time [s]', fontsize=17, color=AXC, labelpad=3)
ax.set_ylabel('Delay [ns]', fontsize=17, color=AXC, labelpad=3)

handles = [Line2D([], [], color=BLUE, marker='o', ls='none', ms=3, mew=0),
           Line2D([], [], color=ORANGE, marker='o', ls='none', ms=3, mew=0)]
leg = ax.legend(handles, labels, loc='lower right', bbox_to_anchor=(0.98, 0.004),
                fontsize=15, frameon=True, fancybox=False, framealpha=1,
                edgecolor=AXC, borderpad=0.25, labelspacing=0.1,
                handlelength=1.4, handletextpad=0.9, borderaxespad=0.0)
leg.get_frame().set_linewidth(0.8)
for txt in leg.get_texts():
    txt.set_color('black')

fig.savefig('out.png', dpi=100)
